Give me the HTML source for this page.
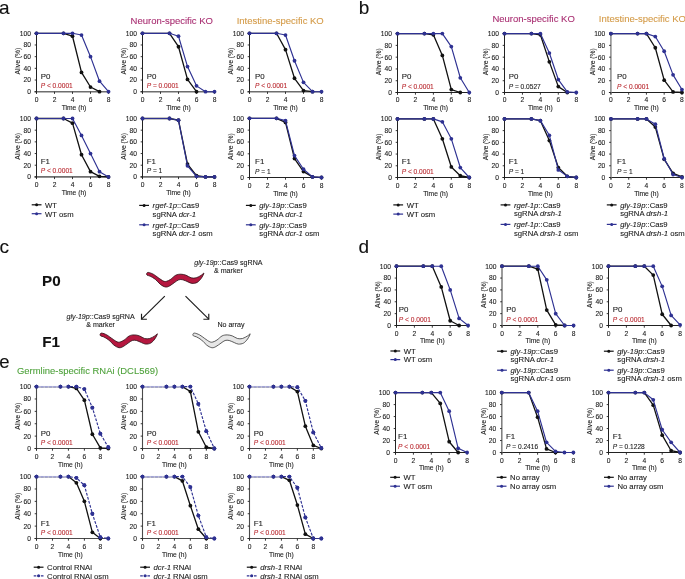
<!DOCTYPE html>
<html><head><meta charset="utf-8"><style>
html,body{margin:0;padding:0;background:#fff;width:685px;height:579px;overflow:hidden;}
svg{display:block;font-family:"Liberation Sans", sans-serif;will-change:transform;}
</style></head><body>
<svg width="685" height="579" viewBox="0 0 685 579">
<rect width="685" height="579" fill="#fff"/>
<text x="-0.90" y="14.00" font-size="19" text-anchor="start" fill="#111" stroke="#111" stroke-width="0.1" >a</text>
<text x="171.80" y="23.60" font-size="9.5" text-anchor="middle" fill="#a92f72" stroke="#a92f72" stroke-width="0.1" >Neuron-specific KO</text>
<text x="280.20" y="23.60" font-size="9.5" text-anchor="middle" fill="#d49b48" stroke="#d49b48" stroke-width="0.1" >Intestine-specific KO</text>
<line x1="34.50" y1="91.70" x2="108.50" y2="91.70" stroke="#6e6e6e" stroke-width="1.6"/>
<line x1="36.50" y1="93.70" x2="36.50" y2="33.30" stroke="#222222" stroke-width="1.0"/>
<line x1="34.70" y1="91.70" x2="36.50" y2="91.70" stroke="#222222" stroke-width="0.9"/>
<text x="30.90" y="94.10" font-size="6.7" text-anchor="end" fill="#1a1a1a" stroke="#1a1a1a" stroke-width="0.1" >0</text>
<line x1="34.70" y1="80.02" x2="36.50" y2="80.02" stroke="#222222" stroke-width="0.9"/>
<text x="30.90" y="82.42" font-size="6.7" text-anchor="end" fill="#1a1a1a" stroke="#1a1a1a" stroke-width="0.1" >20</text>
<line x1="34.70" y1="68.34" x2="36.50" y2="68.34" stroke="#222222" stroke-width="0.9"/>
<text x="30.90" y="70.74" font-size="6.7" text-anchor="end" fill="#1a1a1a" stroke="#1a1a1a" stroke-width="0.1" >40</text>
<line x1="34.70" y1="56.66" x2="36.50" y2="56.66" stroke="#222222" stroke-width="0.9"/>
<text x="30.90" y="59.06" font-size="6.7" text-anchor="end" fill="#1a1a1a" stroke="#1a1a1a" stroke-width="0.1" >60</text>
<line x1="34.70" y1="44.98" x2="36.50" y2="44.98" stroke="#222222" stroke-width="0.9"/>
<text x="30.90" y="47.38" font-size="6.7" text-anchor="end" fill="#1a1a1a" stroke="#1a1a1a" stroke-width="0.1" >80</text>
<line x1="34.70" y1="33.30" x2="36.50" y2="33.30" stroke="#222222" stroke-width="0.9"/>
<text x="30.90" y="35.70" font-size="6.7" text-anchor="end" fill="#1a1a1a" stroke="#1a1a1a" stroke-width="0.1" >100</text>
<line x1="36.50" y1="91.70" x2="36.50" y2="93.90" stroke="#222222" stroke-width="0.9"/>
<text x="36.50" y="102.10" font-size="6.7" text-anchor="middle" fill="#1a1a1a" stroke="#1a1a1a" stroke-width="0.1" >0</text>
<line x1="54.50" y1="91.70" x2="54.50" y2="93.90" stroke="#222222" stroke-width="0.9"/>
<text x="54.50" y="102.10" font-size="6.7" text-anchor="middle" fill="#1a1a1a" stroke="#1a1a1a" stroke-width="0.1" >2</text>
<line x1="72.50" y1="91.70" x2="72.50" y2="93.90" stroke="#222222" stroke-width="0.9"/>
<text x="72.50" y="102.10" font-size="6.7" text-anchor="middle" fill="#1a1a1a" stroke="#1a1a1a" stroke-width="0.1" >4</text>
<line x1="90.50" y1="91.70" x2="90.50" y2="93.90" stroke="#222222" stroke-width="0.9"/>
<text x="90.50" y="102.10" font-size="6.7" text-anchor="middle" fill="#1a1a1a" stroke="#1a1a1a" stroke-width="0.1" >6</text>
<line x1="108.50" y1="91.70" x2="108.50" y2="93.90" stroke="#222222" stroke-width="0.9"/>
<text x="108.50" y="102.10" font-size="6.7" text-anchor="middle" fill="#1a1a1a" stroke="#1a1a1a" stroke-width="0.1" >8</text>
<text x="74.03" y="110.00" font-size="6.7" text-anchor="middle" fill="#1a1a1a" stroke="#1a1a1a" stroke-width="0.1" >Time (h)</text>
<text x="0" y="0" font-size="6.7" text-anchor="middle" fill="#1a1a1a" stroke="#1a1a1a" stroke-width="0.1" transform="translate(20.30,61.20) rotate(-90)">Alive (%)</text>
<polyline points="36.50,33.30 63.50,33.30 72.50,36.22 81.50,72.43 90.50,87.03 99.50,91.70" fill="none" stroke="#111111" stroke-width="1.3" stroke-linejoin="round"/>
<circle cx="36.50" cy="33.30" r="1.9" fill="#111111"/>
<circle cx="63.50" cy="33.30" r="1.9" fill="#111111"/>
<circle cx="72.50" cy="36.22" r="1.9" fill="#111111"/>
<circle cx="81.50" cy="72.43" r="1.9" fill="#111111"/>
<circle cx="90.50" cy="87.03" r="1.9" fill="#111111"/>
<circle cx="99.50" cy="91.70" r="1.9" fill="#111111"/>
<polyline points="36.50,33.30 63.50,33.30 72.50,33.30 81.50,35.05 90.50,56.66 99.50,81.19 108.50,91.70" fill="none" stroke="#2e3192" stroke-width="1.15" stroke-linejoin="round"/>
<circle cx="36.50" cy="33.30" r="1.9" fill="#2e3192"/>
<circle cx="63.50" cy="33.30" r="1.9" fill="#2e3192"/>
<circle cx="72.50" cy="33.30" r="1.9" fill="#2e3192"/>
<circle cx="81.50" cy="35.05" r="1.9" fill="#2e3192"/>
<circle cx="90.50" cy="56.66" r="1.9" fill="#2e3192"/>
<circle cx="99.50" cy="81.19" r="1.9" fill="#2e3192"/>
<circle cx="108.50" cy="91.70" r="1.9" fill="#2e3192"/>
<text x="40.70" y="78.60" font-size="7.9" text-anchor="start" fill="#222" stroke="#222" stroke-width="0.1" >P0</text>
<text x="40.70" y="88.00" font-size="6.6" text-anchor="start" fill="#b9282f" stroke="#b9282f" stroke-width="0.1" ><tspan font-style="italic">P</tspan> &lt; 0.0001</text>
<line x1="34.50" y1="176.90" x2="108.50" y2="176.90" stroke="#6e6e6e" stroke-width="1.6"/>
<line x1="36.50" y1="178.90" x2="36.50" y2="118.50" stroke="#222222" stroke-width="1.0"/>
<line x1="34.70" y1="176.90" x2="36.50" y2="176.90" stroke="#222222" stroke-width="0.9"/>
<text x="30.90" y="179.30" font-size="6.7" text-anchor="end" fill="#1a1a1a" stroke="#1a1a1a" stroke-width="0.1" >0</text>
<line x1="34.70" y1="165.22" x2="36.50" y2="165.22" stroke="#222222" stroke-width="0.9"/>
<text x="30.90" y="167.62" font-size="6.7" text-anchor="end" fill="#1a1a1a" stroke="#1a1a1a" stroke-width="0.1" >20</text>
<line x1="34.70" y1="153.54" x2="36.50" y2="153.54" stroke="#222222" stroke-width="0.9"/>
<text x="30.90" y="155.94" font-size="6.7" text-anchor="end" fill="#1a1a1a" stroke="#1a1a1a" stroke-width="0.1" >40</text>
<line x1="34.70" y1="141.86" x2="36.50" y2="141.86" stroke="#222222" stroke-width="0.9"/>
<text x="30.90" y="144.26" font-size="6.7" text-anchor="end" fill="#1a1a1a" stroke="#1a1a1a" stroke-width="0.1" >60</text>
<line x1="34.70" y1="130.18" x2="36.50" y2="130.18" stroke="#222222" stroke-width="0.9"/>
<text x="30.90" y="132.58" font-size="6.7" text-anchor="end" fill="#1a1a1a" stroke="#1a1a1a" stroke-width="0.1" >80</text>
<line x1="34.70" y1="118.50" x2="36.50" y2="118.50" stroke="#222222" stroke-width="0.9"/>
<text x="30.90" y="120.90" font-size="6.7" text-anchor="end" fill="#1a1a1a" stroke="#1a1a1a" stroke-width="0.1" >100</text>
<line x1="36.50" y1="176.90" x2="36.50" y2="179.10" stroke="#222222" stroke-width="0.9"/>
<text x="36.50" y="187.30" font-size="6.7" text-anchor="middle" fill="#1a1a1a" stroke="#1a1a1a" stroke-width="0.1" >0</text>
<line x1="54.50" y1="176.90" x2="54.50" y2="179.10" stroke="#222222" stroke-width="0.9"/>
<text x="54.50" y="187.30" font-size="6.7" text-anchor="middle" fill="#1a1a1a" stroke="#1a1a1a" stroke-width="0.1" >2</text>
<line x1="72.50" y1="176.90" x2="72.50" y2="179.10" stroke="#222222" stroke-width="0.9"/>
<text x="72.50" y="187.30" font-size="6.7" text-anchor="middle" fill="#1a1a1a" stroke="#1a1a1a" stroke-width="0.1" >4</text>
<line x1="90.50" y1="176.90" x2="90.50" y2="179.10" stroke="#222222" stroke-width="0.9"/>
<text x="90.50" y="187.30" font-size="6.7" text-anchor="middle" fill="#1a1a1a" stroke="#1a1a1a" stroke-width="0.1" >6</text>
<line x1="108.50" y1="176.90" x2="108.50" y2="179.10" stroke="#222222" stroke-width="0.9"/>
<text x="108.50" y="187.30" font-size="6.7" text-anchor="middle" fill="#1a1a1a" stroke="#1a1a1a" stroke-width="0.1" >8</text>
<text x="74.03" y="195.20" font-size="6.7" text-anchor="middle" fill="#1a1a1a" stroke="#1a1a1a" stroke-width="0.1" >Time (h)</text>
<text x="0" y="0" font-size="6.7" text-anchor="middle" fill="#1a1a1a" stroke="#1a1a1a" stroke-width="0.1" transform="translate(20.30,146.40) rotate(-90)">Alive (%)</text>
<polyline points="36.50,118.50 63.50,118.50 72.50,123.17 81.50,154.71 90.50,171.64 99.50,176.32 108.50,176.90" fill="none" stroke="#111111" stroke-width="1.3" stroke-linejoin="round"/>
<circle cx="36.50" cy="118.50" r="1.9" fill="#111111"/>
<circle cx="63.50" cy="118.50" r="1.9" fill="#111111"/>
<circle cx="72.50" cy="123.17" r="1.9" fill="#111111"/>
<circle cx="81.50" cy="154.71" r="1.9" fill="#111111"/>
<circle cx="90.50" cy="171.64" r="1.9" fill="#111111"/>
<circle cx="99.50" cy="176.32" r="1.9" fill="#111111"/>
<circle cx="108.50" cy="176.90" r="1.9" fill="#111111"/>
<polyline points="36.50,118.50 63.50,118.50 72.50,118.50 81.50,135.44 90.50,153.54 99.50,171.64 108.50,176.90" fill="none" stroke="#2e3192" stroke-width="1.15" stroke-linejoin="round"/>
<circle cx="36.50" cy="118.50" r="1.9" fill="#2e3192"/>
<circle cx="63.50" cy="118.50" r="1.9" fill="#2e3192"/>
<circle cx="72.50" cy="118.50" r="1.9" fill="#2e3192"/>
<circle cx="81.50" cy="135.44" r="1.9" fill="#2e3192"/>
<circle cx="90.50" cy="153.54" r="1.9" fill="#2e3192"/>
<circle cx="99.50" cy="171.64" r="1.9" fill="#2e3192"/>
<circle cx="108.50" cy="176.90" r="1.9" fill="#2e3192"/>
<text x="40.70" y="163.80" font-size="7.9" text-anchor="start" fill="#222" stroke="#222" stroke-width="0.1" >F1</text>
<text x="40.70" y="173.20" font-size="6.6" text-anchor="start" fill="#b9282f" stroke="#b9282f" stroke-width="0.1" ><tspan font-style="italic">P</tspan> &lt; 0.0001</text>
<line x1="140.50" y1="91.70" x2="214.50" y2="91.70" stroke="#6e6e6e" stroke-width="1.6"/>
<line x1="142.50" y1="93.70" x2="142.50" y2="33.30" stroke="#222222" stroke-width="1.0"/>
<line x1="140.70" y1="91.70" x2="142.50" y2="91.70" stroke="#222222" stroke-width="0.9"/>
<text x="136.90" y="94.10" font-size="6.7" text-anchor="end" fill="#1a1a1a" stroke="#1a1a1a" stroke-width="0.1" >0</text>
<line x1="140.70" y1="80.02" x2="142.50" y2="80.02" stroke="#222222" stroke-width="0.9"/>
<text x="136.90" y="82.42" font-size="6.7" text-anchor="end" fill="#1a1a1a" stroke="#1a1a1a" stroke-width="0.1" >20</text>
<line x1="140.70" y1="68.34" x2="142.50" y2="68.34" stroke="#222222" stroke-width="0.9"/>
<text x="136.90" y="70.74" font-size="6.7" text-anchor="end" fill="#1a1a1a" stroke="#1a1a1a" stroke-width="0.1" >40</text>
<line x1="140.70" y1="56.66" x2="142.50" y2="56.66" stroke="#222222" stroke-width="0.9"/>
<text x="136.90" y="59.06" font-size="6.7" text-anchor="end" fill="#1a1a1a" stroke="#1a1a1a" stroke-width="0.1" >60</text>
<line x1="140.70" y1="44.98" x2="142.50" y2="44.98" stroke="#222222" stroke-width="0.9"/>
<text x="136.90" y="47.38" font-size="6.7" text-anchor="end" fill="#1a1a1a" stroke="#1a1a1a" stroke-width="0.1" >80</text>
<line x1="140.70" y1="33.30" x2="142.50" y2="33.30" stroke="#222222" stroke-width="0.9"/>
<text x="136.90" y="35.70" font-size="6.7" text-anchor="end" fill="#1a1a1a" stroke="#1a1a1a" stroke-width="0.1" >100</text>
<line x1="142.50" y1="91.70" x2="142.50" y2="93.90" stroke="#222222" stroke-width="0.9"/>
<text x="142.50" y="102.10" font-size="6.7" text-anchor="middle" fill="#1a1a1a" stroke="#1a1a1a" stroke-width="0.1" >0</text>
<line x1="160.50" y1="91.70" x2="160.50" y2="93.90" stroke="#222222" stroke-width="0.9"/>
<text x="160.50" y="102.10" font-size="6.7" text-anchor="middle" fill="#1a1a1a" stroke="#1a1a1a" stroke-width="0.1" >2</text>
<line x1="178.50" y1="91.70" x2="178.50" y2="93.90" stroke="#222222" stroke-width="0.9"/>
<text x="178.50" y="102.10" font-size="6.7" text-anchor="middle" fill="#1a1a1a" stroke="#1a1a1a" stroke-width="0.1" >4</text>
<line x1="196.50" y1="91.70" x2="196.50" y2="93.90" stroke="#222222" stroke-width="0.9"/>
<text x="196.50" y="102.10" font-size="6.7" text-anchor="middle" fill="#1a1a1a" stroke="#1a1a1a" stroke-width="0.1" >6</text>
<line x1="214.50" y1="91.70" x2="214.50" y2="93.90" stroke="#222222" stroke-width="0.9"/>
<text x="214.50" y="102.10" font-size="6.7" text-anchor="middle" fill="#1a1a1a" stroke="#1a1a1a" stroke-width="0.1" >8</text>
<text x="178.50" y="110.00" font-size="6.7" text-anchor="middle" fill="#1a1a1a" stroke="#1a1a1a" stroke-width="0.1" >Time (h)</text>
<text x="0" y="0" font-size="6.7" text-anchor="middle" fill="#1a1a1a" stroke="#1a1a1a" stroke-width="0.1" transform="translate(126.30,61.20) rotate(-90)">Alive (%)</text>
<polyline points="142.50,33.30 169.50,33.30 178.50,46.73 187.50,79.44 196.50,91.70" fill="none" stroke="#111111" stroke-width="1.3" stroke-linejoin="round"/>
<circle cx="142.50" cy="33.30" r="1.9" fill="#111111"/>
<circle cx="169.50" cy="33.30" r="1.9" fill="#111111"/>
<circle cx="178.50" cy="46.73" r="1.9" fill="#111111"/>
<circle cx="187.50" cy="79.44" r="1.9" fill="#111111"/>
<circle cx="196.50" cy="91.70" r="1.9" fill="#111111"/>
<polyline points="142.50,33.30 169.50,33.30 178.50,36.22 187.50,66.59 196.50,85.86 205.50,91.70 214.50,91.70" fill="none" stroke="#2e3192" stroke-width="1.15" stroke-linejoin="round"/>
<circle cx="142.50" cy="33.30" r="1.9" fill="#2e3192"/>
<circle cx="169.50" cy="33.30" r="1.9" fill="#2e3192"/>
<circle cx="178.50" cy="36.22" r="1.9" fill="#2e3192"/>
<circle cx="187.50" cy="66.59" r="1.9" fill="#2e3192"/>
<circle cx="196.50" cy="85.86" r="1.9" fill="#2e3192"/>
<circle cx="205.50" cy="91.70" r="1.9" fill="#2e3192"/>
<circle cx="214.50" cy="91.70" r="1.9" fill="#2e3192"/>
<text x="146.70" y="78.60" font-size="7.9" text-anchor="start" fill="#222" stroke="#222" stroke-width="0.1" >P0</text>
<text x="146.70" y="88.00" font-size="6.6" text-anchor="start" fill="#b9282f" stroke="#b9282f" stroke-width="0.1" ><tspan font-style="italic">P</tspan> = 0.0001</text>
<line x1="140.50" y1="176.90" x2="214.50" y2="176.90" stroke="#6e6e6e" stroke-width="1.6"/>
<line x1="142.50" y1="178.90" x2="142.50" y2="118.50" stroke="#222222" stroke-width="1.0"/>
<line x1="140.70" y1="176.90" x2="142.50" y2="176.90" stroke="#222222" stroke-width="0.9"/>
<text x="136.90" y="179.30" font-size="6.7" text-anchor="end" fill="#1a1a1a" stroke="#1a1a1a" stroke-width="0.1" >0</text>
<line x1="140.70" y1="165.22" x2="142.50" y2="165.22" stroke="#222222" stroke-width="0.9"/>
<text x="136.90" y="167.62" font-size="6.7" text-anchor="end" fill="#1a1a1a" stroke="#1a1a1a" stroke-width="0.1" >20</text>
<line x1="140.70" y1="153.54" x2="142.50" y2="153.54" stroke="#222222" stroke-width="0.9"/>
<text x="136.90" y="155.94" font-size="6.7" text-anchor="end" fill="#1a1a1a" stroke="#1a1a1a" stroke-width="0.1" >40</text>
<line x1="140.70" y1="141.86" x2="142.50" y2="141.86" stroke="#222222" stroke-width="0.9"/>
<text x="136.90" y="144.26" font-size="6.7" text-anchor="end" fill="#1a1a1a" stroke="#1a1a1a" stroke-width="0.1" >60</text>
<line x1="140.70" y1="130.18" x2="142.50" y2="130.18" stroke="#222222" stroke-width="0.9"/>
<text x="136.90" y="132.58" font-size="6.7" text-anchor="end" fill="#1a1a1a" stroke="#1a1a1a" stroke-width="0.1" >80</text>
<line x1="140.70" y1="118.50" x2="142.50" y2="118.50" stroke="#222222" stroke-width="0.9"/>
<text x="136.90" y="120.90" font-size="6.7" text-anchor="end" fill="#1a1a1a" stroke="#1a1a1a" stroke-width="0.1" >100</text>
<line x1="142.50" y1="176.90" x2="142.50" y2="179.10" stroke="#222222" stroke-width="0.9"/>
<text x="142.50" y="187.30" font-size="6.7" text-anchor="middle" fill="#1a1a1a" stroke="#1a1a1a" stroke-width="0.1" >0</text>
<line x1="160.50" y1="176.90" x2="160.50" y2="179.10" stroke="#222222" stroke-width="0.9"/>
<text x="160.50" y="187.30" font-size="6.7" text-anchor="middle" fill="#1a1a1a" stroke="#1a1a1a" stroke-width="0.1" >2</text>
<line x1="178.50" y1="176.90" x2="178.50" y2="179.10" stroke="#222222" stroke-width="0.9"/>
<text x="178.50" y="187.30" font-size="6.7" text-anchor="middle" fill="#1a1a1a" stroke="#1a1a1a" stroke-width="0.1" >4</text>
<line x1="196.50" y1="176.90" x2="196.50" y2="179.10" stroke="#222222" stroke-width="0.9"/>
<text x="196.50" y="187.30" font-size="6.7" text-anchor="middle" fill="#1a1a1a" stroke="#1a1a1a" stroke-width="0.1" >6</text>
<line x1="214.50" y1="176.90" x2="214.50" y2="179.10" stroke="#222222" stroke-width="0.9"/>
<text x="214.50" y="187.30" font-size="6.7" text-anchor="middle" fill="#1a1a1a" stroke="#1a1a1a" stroke-width="0.1" >8</text>
<text x="178.50" y="195.20" font-size="6.7" text-anchor="middle" fill="#1a1a1a" stroke="#1a1a1a" stroke-width="0.1" >Time (h)</text>
<text x="0" y="0" font-size="6.7" text-anchor="middle" fill="#1a1a1a" stroke="#1a1a1a" stroke-width="0.1" transform="translate(126.30,146.40) rotate(-90)">Alive (%)</text>
<polyline points="142.50,118.50 169.50,118.50 178.50,120.25 187.50,164.05 196.50,175.73 205.50,176.90 214.50,176.90" fill="none" stroke="#111111" stroke-width="1.3" stroke-linejoin="round"/>
<circle cx="142.50" cy="118.50" r="1.9" fill="#111111"/>
<circle cx="169.50" cy="118.50" r="1.9" fill="#111111"/>
<circle cx="178.50" cy="120.25" r="1.9" fill="#111111"/>
<circle cx="187.50" cy="164.05" r="1.9" fill="#111111"/>
<circle cx="196.50" cy="175.73" r="1.9" fill="#111111"/>
<circle cx="205.50" cy="176.90" r="1.9" fill="#111111"/>
<circle cx="214.50" cy="176.90" r="1.9" fill="#111111"/>
<polyline points="142.50,118.50 169.50,118.50 178.50,120.25 187.50,165.80 196.50,176.32 205.50,176.90 214.50,176.90" fill="none" stroke="#2e3192" stroke-width="1.15" stroke-linejoin="round"/>
<circle cx="142.50" cy="118.50" r="1.9" fill="#2e3192"/>
<circle cx="169.50" cy="118.50" r="1.9" fill="#2e3192"/>
<circle cx="178.50" cy="120.25" r="1.9" fill="#2e3192"/>
<circle cx="187.50" cy="165.80" r="1.9" fill="#2e3192"/>
<circle cx="196.50" cy="176.32" r="1.9" fill="#2e3192"/>
<circle cx="205.50" cy="176.90" r="1.9" fill="#2e3192"/>
<circle cx="214.50" cy="176.90" r="1.9" fill="#2e3192"/>
<text x="146.70" y="163.80" font-size="7.9" text-anchor="start" fill="#222" stroke="#222" stroke-width="0.1" >F1</text>
<text x="146.70" y="173.20" font-size="6.6" text-anchor="start" fill="#222" stroke="#222" stroke-width="0.1" ><tspan font-style="italic">P</tspan> = 1</text>
<line x1="247.50" y1="91.70" x2="321.50" y2="91.70" stroke="#6e6e6e" stroke-width="1.6"/>
<line x1="249.50" y1="93.70" x2="249.50" y2="33.30" stroke="#222222" stroke-width="1.0"/>
<line x1="247.70" y1="91.70" x2="249.50" y2="91.70" stroke="#222222" stroke-width="0.9"/>
<text x="243.90" y="94.10" font-size="6.7" text-anchor="end" fill="#1a1a1a" stroke="#1a1a1a" stroke-width="0.1" >0</text>
<line x1="247.70" y1="80.02" x2="249.50" y2="80.02" stroke="#222222" stroke-width="0.9"/>
<text x="243.90" y="82.42" font-size="6.7" text-anchor="end" fill="#1a1a1a" stroke="#1a1a1a" stroke-width="0.1" >20</text>
<line x1="247.70" y1="68.34" x2="249.50" y2="68.34" stroke="#222222" stroke-width="0.9"/>
<text x="243.90" y="70.74" font-size="6.7" text-anchor="end" fill="#1a1a1a" stroke="#1a1a1a" stroke-width="0.1" >40</text>
<line x1="247.70" y1="56.66" x2="249.50" y2="56.66" stroke="#222222" stroke-width="0.9"/>
<text x="243.90" y="59.06" font-size="6.7" text-anchor="end" fill="#1a1a1a" stroke="#1a1a1a" stroke-width="0.1" >60</text>
<line x1="247.70" y1="44.98" x2="249.50" y2="44.98" stroke="#222222" stroke-width="0.9"/>
<text x="243.90" y="47.38" font-size="6.7" text-anchor="end" fill="#1a1a1a" stroke="#1a1a1a" stroke-width="0.1" >80</text>
<line x1="247.70" y1="33.30" x2="249.50" y2="33.30" stroke="#222222" stroke-width="0.9"/>
<text x="243.90" y="35.70" font-size="6.7" text-anchor="end" fill="#1a1a1a" stroke="#1a1a1a" stroke-width="0.1" >100</text>
<line x1="249.50" y1="91.70" x2="249.50" y2="93.90" stroke="#222222" stroke-width="0.9"/>
<text x="249.50" y="102.10" font-size="6.7" text-anchor="middle" fill="#1a1a1a" stroke="#1a1a1a" stroke-width="0.1" >0</text>
<line x1="267.50" y1="91.70" x2="267.50" y2="93.90" stroke="#222222" stroke-width="0.9"/>
<text x="267.50" y="102.10" font-size="6.7" text-anchor="middle" fill="#1a1a1a" stroke="#1a1a1a" stroke-width="0.1" >2</text>
<line x1="285.50" y1="91.70" x2="285.50" y2="93.90" stroke="#222222" stroke-width="0.9"/>
<text x="285.50" y="102.10" font-size="6.7" text-anchor="middle" fill="#1a1a1a" stroke="#1a1a1a" stroke-width="0.1" >4</text>
<line x1="303.50" y1="91.70" x2="303.50" y2="93.90" stroke="#222222" stroke-width="0.9"/>
<text x="303.50" y="102.10" font-size="6.7" text-anchor="middle" fill="#1a1a1a" stroke="#1a1a1a" stroke-width="0.1" >6</text>
<line x1="321.50" y1="91.70" x2="321.50" y2="93.90" stroke="#222222" stroke-width="0.9"/>
<text x="321.50" y="102.10" font-size="6.7" text-anchor="middle" fill="#1a1a1a" stroke="#1a1a1a" stroke-width="0.1" >8</text>
<text x="285.50" y="110.00" font-size="6.7" text-anchor="middle" fill="#1a1a1a" stroke="#1a1a1a" stroke-width="0.1" >Time (h)</text>
<text x="0" y="0" font-size="6.7" text-anchor="middle" fill="#1a1a1a" stroke="#1a1a1a" stroke-width="0.1" transform="translate(233.30,61.20) rotate(-90)">Alive (%)</text>
<polyline points="249.50,33.30 276.50,33.30 285.50,49.65 294.50,78.27 303.50,90.53 312.50,91.70" fill="none" stroke="#111111" stroke-width="1.3" stroke-linejoin="round"/>
<circle cx="249.50" cy="33.30" r="1.9" fill="#111111"/>
<circle cx="276.50" cy="33.30" r="1.9" fill="#111111"/>
<circle cx="285.50" cy="49.65" r="1.9" fill="#111111"/>
<circle cx="294.50" cy="78.27" r="1.9" fill="#111111"/>
<circle cx="303.50" cy="90.53" r="1.9" fill="#111111"/>
<circle cx="312.50" cy="91.70" r="1.9" fill="#111111"/>
<polyline points="249.50,33.30 276.50,33.30 285.50,35.05 294.50,60.75 303.50,82.36 312.50,91.70 321.50,91.70" fill="none" stroke="#2e3192" stroke-width="1.15" stroke-linejoin="round"/>
<circle cx="249.50" cy="33.30" r="1.9" fill="#2e3192"/>
<circle cx="276.50" cy="33.30" r="1.9" fill="#2e3192"/>
<circle cx="285.50" cy="35.05" r="1.9" fill="#2e3192"/>
<circle cx="294.50" cy="60.75" r="1.9" fill="#2e3192"/>
<circle cx="303.50" cy="82.36" r="1.9" fill="#2e3192"/>
<circle cx="312.50" cy="91.70" r="1.9" fill="#2e3192"/>
<circle cx="321.50" cy="91.70" r="1.9" fill="#2e3192"/>
<text x="255.10" y="78.60" font-size="7.9" text-anchor="start" fill="#222" stroke="#222" stroke-width="0.1" >P0</text>
<text x="255.10" y="88.00" font-size="6.6" text-anchor="start" fill="#b9282f" stroke="#b9282f" stroke-width="0.1" ><tspan font-style="italic">P</tspan> &lt; 0.0001</text>
<line x1="247.50" y1="177.50" x2="321.50" y2="177.50" stroke="#222222" stroke-width="1.1"/>
<line x1="249.50" y1="179.50" x2="249.50" y2="118.30" stroke="#222222" stroke-width="1.0"/>
<line x1="247.70" y1="177.50" x2="249.50" y2="177.50" stroke="#222222" stroke-width="0.9"/>
<text x="243.90" y="179.90" font-size="6.7" text-anchor="end" fill="#1a1a1a" stroke="#1a1a1a" stroke-width="0.1" >0</text>
<line x1="247.70" y1="165.66" x2="249.50" y2="165.66" stroke="#222222" stroke-width="0.9"/>
<text x="243.90" y="168.06" font-size="6.7" text-anchor="end" fill="#1a1a1a" stroke="#1a1a1a" stroke-width="0.1" >20</text>
<line x1="247.70" y1="153.82" x2="249.50" y2="153.82" stroke="#222222" stroke-width="0.9"/>
<text x="243.90" y="156.22" font-size="6.7" text-anchor="end" fill="#1a1a1a" stroke="#1a1a1a" stroke-width="0.1" >40</text>
<line x1="247.70" y1="141.98" x2="249.50" y2="141.98" stroke="#222222" stroke-width="0.9"/>
<text x="243.90" y="144.38" font-size="6.7" text-anchor="end" fill="#1a1a1a" stroke="#1a1a1a" stroke-width="0.1" >60</text>
<line x1="247.70" y1="130.14" x2="249.50" y2="130.14" stroke="#222222" stroke-width="0.9"/>
<text x="243.90" y="132.54" font-size="6.7" text-anchor="end" fill="#1a1a1a" stroke="#1a1a1a" stroke-width="0.1" >80</text>
<line x1="247.70" y1="118.30" x2="249.50" y2="118.30" stroke="#222222" stroke-width="0.9"/>
<text x="243.90" y="120.70" font-size="6.7" text-anchor="end" fill="#1a1a1a" stroke="#1a1a1a" stroke-width="0.1" >100</text>
<line x1="249.50" y1="177.50" x2="249.50" y2="179.70" stroke="#222222" stroke-width="0.9"/>
<text x="249.50" y="187.90" font-size="6.7" text-anchor="middle" fill="#1a1a1a" stroke="#1a1a1a" stroke-width="0.1" >0</text>
<line x1="267.50" y1="177.50" x2="267.50" y2="179.70" stroke="#222222" stroke-width="0.9"/>
<text x="267.50" y="187.90" font-size="6.7" text-anchor="middle" fill="#1a1a1a" stroke="#1a1a1a" stroke-width="0.1" >2</text>
<line x1="285.50" y1="177.50" x2="285.50" y2="179.70" stroke="#222222" stroke-width="0.9"/>
<text x="285.50" y="187.90" font-size="6.7" text-anchor="middle" fill="#1a1a1a" stroke="#1a1a1a" stroke-width="0.1" >4</text>
<line x1="303.50" y1="177.50" x2="303.50" y2="179.70" stroke="#222222" stroke-width="0.9"/>
<text x="303.50" y="187.90" font-size="6.7" text-anchor="middle" fill="#1a1a1a" stroke="#1a1a1a" stroke-width="0.1" >6</text>
<line x1="321.50" y1="177.50" x2="321.50" y2="179.70" stroke="#222222" stroke-width="0.9"/>
<text x="321.50" y="187.90" font-size="6.7" text-anchor="middle" fill="#1a1a1a" stroke="#1a1a1a" stroke-width="0.1" >8</text>
<text x="285.50" y="195.80" font-size="6.7" text-anchor="middle" fill="#1a1a1a" stroke="#1a1a1a" stroke-width="0.1" >Time (h)</text>
<text x="0" y="0" font-size="6.7" text-anchor="middle" fill="#1a1a1a" stroke="#1a1a1a" stroke-width="0.1" transform="translate(233.30,146.60) rotate(-90)">Alive (%)</text>
<polyline points="249.50,118.30 276.50,118.30 285.50,122.44 294.50,158.56 303.50,171.58 312.50,176.91 321.50,177.50" fill="none" stroke="#111111" stroke-width="1.3" stroke-linejoin="round"/>
<circle cx="249.50" cy="118.30" r="1.9" fill="#111111"/>
<circle cx="276.50" cy="118.30" r="1.9" fill="#111111"/>
<circle cx="285.50" cy="122.44" r="1.9" fill="#111111"/>
<circle cx="294.50" cy="158.56" r="1.9" fill="#111111"/>
<circle cx="303.50" cy="171.58" r="1.9" fill="#111111"/>
<circle cx="312.50" cy="176.91" r="1.9" fill="#111111"/>
<circle cx="321.50" cy="177.50" r="1.9" fill="#111111"/>
<polyline points="249.50,118.30 276.50,118.30 285.50,120.67 294.50,155.60 303.50,169.21 312.50,176.91 321.50,177.50" fill="none" stroke="#2e3192" stroke-width="1.15" stroke-linejoin="round"/>
<circle cx="249.50" cy="118.30" r="1.9" fill="#2e3192"/>
<circle cx="276.50" cy="118.30" r="1.9" fill="#2e3192"/>
<circle cx="285.50" cy="120.67" r="1.9" fill="#2e3192"/>
<circle cx="294.50" cy="155.60" r="1.9" fill="#2e3192"/>
<circle cx="303.50" cy="169.21" r="1.9" fill="#2e3192"/>
<circle cx="312.50" cy="176.91" r="1.9" fill="#2e3192"/>
<circle cx="321.50" cy="177.50" r="1.9" fill="#2e3192"/>
<text x="255.10" y="164.40" font-size="7.9" text-anchor="start" fill="#222" stroke="#222" stroke-width="0.1" >F1</text>
<text x="255.10" y="173.80" font-size="6.6" text-anchor="start" fill="#222" stroke="#222" stroke-width="0.1" ><tspan font-style="italic">P</tspan> = 1</text>
<line x1="31.70" y1="204.80" x2="41.50" y2="204.80" stroke="#111111" stroke-width="1.2"/>
<circle cx="36.60" cy="204.80" r="1.5" fill="#111111"/>
<text x="45.10" y="207.60" font-size="7.7" text-anchor="start" fill="#1a1a1a" stroke="#1a1a1a" stroke-width="0.1" >WT</text>
<line x1="31.70" y1="213.70" x2="41.50" y2="213.70" stroke="#2e3192" stroke-width="1.2"/>
<circle cx="36.60" cy="213.70" r="1.5" fill="#2e3192"/>
<text x="45.10" y="216.50" font-size="7.7" text-anchor="start" fill="#1a1a1a" stroke="#1a1a1a" stroke-width="0.1" >WT osm</text>
<line x1="139.20" y1="205.40" x2="149.00" y2="205.40" stroke="#111111" stroke-width="1.2"/>
<circle cx="144.10" cy="205.40" r="1.5" fill="#111111"/>
<text x="152.60" y="208.20" font-size="7.7" text-anchor="start" fill="#1a1a1a" stroke="#1a1a1a" stroke-width="0.1" ><tspan font-style="italic">rgef-1p</tspan>::Cas9</text>
<text x="152.60" y="216.50" font-size="7.7" text-anchor="start" fill="#1a1a1a" stroke="#1a1a1a" stroke-width="0.1" >sgRNA <tspan font-style="italic">dcr-1</tspan></text>
<line x1="139.20" y1="224.80" x2="149.00" y2="224.80" stroke="#2e3192" stroke-width="1.2"/>
<circle cx="144.10" cy="224.80" r="1.5" fill="#2e3192"/>
<text x="152.60" y="227.60" font-size="7.7" text-anchor="start" fill="#1a1a1a" stroke="#1a1a1a" stroke-width="0.1" ><tspan font-style="italic">rgef-1p</tspan>::Cas9</text>
<text x="152.60" y="235.90" font-size="7.7" text-anchor="start" fill="#1a1a1a" stroke="#1a1a1a" stroke-width="0.1" >sgRNA <tspan font-style="italic">dcr-1</tspan> osm</text>
<line x1="245.90" y1="205.40" x2="255.70" y2="205.40" stroke="#111111" stroke-width="1.2"/>
<circle cx="250.80" cy="205.40" r="1.5" fill="#111111"/>
<text x="259.30" y="208.20" font-size="7.7" text-anchor="start" fill="#1a1a1a" stroke="#1a1a1a" stroke-width="0.1" ><tspan font-style="italic">gly-19p</tspan>::Cas9</text>
<text x="259.30" y="216.50" font-size="7.7" text-anchor="start" fill="#1a1a1a" stroke="#1a1a1a" stroke-width="0.1" >sgRNA <tspan font-style="italic">dcr-1</tspan></text>
<line x1="245.90" y1="224.80" x2="255.70" y2="224.80" stroke="#2e3192" stroke-width="1.2"/>
<circle cx="250.80" cy="224.80" r="1.5" fill="#2e3192"/>
<text x="259.30" y="227.60" font-size="7.7" text-anchor="start" fill="#1a1a1a" stroke="#1a1a1a" stroke-width="0.1" ><tspan font-style="italic">gly-19p</tspan>::Cas9</text>
<text x="259.30" y="235.90" font-size="7.7" text-anchor="start" fill="#1a1a1a" stroke="#1a1a1a" stroke-width="0.1" >sgRNA <tspan font-style="italic">dcr-1</tspan> osm</text>
<text x="358.70" y="13.80" font-size="19" text-anchor="start" fill="#111" stroke="#111" stroke-width="0.1" >b</text>
<text x="533.60" y="22.10" font-size="9.5" text-anchor="middle" fill="#a92f72" stroke="#a92f72" stroke-width="0.1" >Neuron-specific KO</text>
<text x="642.40" y="22.10" font-size="9.5" text-anchor="middle" fill="#d49b48" stroke="#d49b48" stroke-width="0.1" >Intestine-specific KO</text>
<line x1="395.50" y1="92.50" x2="469.26" y2="92.50" stroke="#222222" stroke-width="1.1"/>
<line x1="397.50" y1="94.50" x2="397.50" y2="33.60" stroke="#222222" stroke-width="1.0"/>
<line x1="395.70" y1="92.50" x2="397.50" y2="92.50" stroke="#222222" stroke-width="0.9"/>
<text x="391.90" y="94.90" font-size="6.7" text-anchor="end" fill="#1a1a1a" stroke="#1a1a1a" stroke-width="0.1" >0</text>
<line x1="395.70" y1="80.72" x2="397.50" y2="80.72" stroke="#222222" stroke-width="0.9"/>
<text x="391.90" y="83.12" font-size="6.7" text-anchor="end" fill="#1a1a1a" stroke="#1a1a1a" stroke-width="0.1" >20</text>
<line x1="395.70" y1="68.94" x2="397.50" y2="68.94" stroke="#222222" stroke-width="0.9"/>
<text x="391.90" y="71.34" font-size="6.7" text-anchor="end" fill="#1a1a1a" stroke="#1a1a1a" stroke-width="0.1" >40</text>
<line x1="395.70" y1="57.16" x2="397.50" y2="57.16" stroke="#222222" stroke-width="0.9"/>
<text x="391.90" y="59.56" font-size="6.7" text-anchor="end" fill="#1a1a1a" stroke="#1a1a1a" stroke-width="0.1" >60</text>
<line x1="395.70" y1="45.38" x2="397.50" y2="45.38" stroke="#222222" stroke-width="0.9"/>
<text x="391.90" y="47.78" font-size="6.7" text-anchor="end" fill="#1a1a1a" stroke="#1a1a1a" stroke-width="0.1" >80</text>
<line x1="395.70" y1="33.60" x2="397.50" y2="33.60" stroke="#222222" stroke-width="0.9"/>
<text x="391.90" y="36.00" font-size="6.7" text-anchor="end" fill="#1a1a1a" stroke="#1a1a1a" stroke-width="0.1" >100</text>
<line x1="397.50" y1="92.50" x2="397.50" y2="94.70" stroke="#222222" stroke-width="0.9"/>
<text x="397.50" y="102.20" font-size="6.7" text-anchor="middle" fill="#1a1a1a" stroke="#1a1a1a" stroke-width="0.1" >0</text>
<line x1="415.44" y1="92.50" x2="415.44" y2="94.70" stroke="#222222" stroke-width="0.9"/>
<text x="415.44" y="102.20" font-size="6.7" text-anchor="middle" fill="#1a1a1a" stroke="#1a1a1a" stroke-width="0.1" >2</text>
<line x1="433.38" y1="92.50" x2="433.38" y2="94.70" stroke="#222222" stroke-width="0.9"/>
<text x="433.38" y="102.20" font-size="6.7" text-anchor="middle" fill="#1a1a1a" stroke="#1a1a1a" stroke-width="0.1" >4</text>
<line x1="451.32" y1="92.50" x2="451.32" y2="94.70" stroke="#222222" stroke-width="0.9"/>
<text x="451.32" y="102.20" font-size="6.7" text-anchor="middle" fill="#1a1a1a" stroke="#1a1a1a" stroke-width="0.1" >6</text>
<line x1="469.26" y1="92.50" x2="469.26" y2="94.70" stroke="#222222" stroke-width="0.9"/>
<text x="469.26" y="102.20" font-size="6.7" text-anchor="middle" fill="#1a1a1a" stroke="#1a1a1a" stroke-width="0.1" >8</text>
<text x="435.62" y="109.70" font-size="6.7" text-anchor="middle" fill="#1a1a1a" stroke="#1a1a1a" stroke-width="0.1" >Time (h)</text>
<text x="0" y="0" font-size="6.7" text-anchor="middle" fill="#1a1a1a" stroke="#1a1a1a" stroke-width="0.1" transform="translate(381.30,61.75) rotate(-90)">Alive (%)</text>
<polyline points="397.50,33.60 424.41,33.60 433.38,34.78 442.35,55.39 451.32,89.56 460.29,92.50" fill="none" stroke="#111111" stroke-width="1.3" stroke-linejoin="round"/>
<circle cx="397.50" cy="33.60" r="1.9" fill="#111111"/>
<circle cx="424.41" cy="33.60" r="1.9" fill="#111111"/>
<circle cx="433.38" cy="34.78" r="1.9" fill="#111111"/>
<circle cx="442.35" cy="55.39" r="1.9" fill="#111111"/>
<circle cx="451.32" cy="89.56" r="1.9" fill="#111111"/>
<circle cx="460.29" cy="92.50" r="1.9" fill="#111111"/>
<polyline points="397.50,33.60 424.41,33.60 433.38,33.60 442.35,33.60 451.32,46.56 460.29,77.78 469.26,92.50" fill="none" stroke="#2e3192" stroke-width="1.15" stroke-linejoin="round"/>
<circle cx="397.50" cy="33.60" r="1.9" fill="#2e3192"/>
<circle cx="424.41" cy="33.60" r="1.9" fill="#2e3192"/>
<circle cx="433.38" cy="33.60" r="1.9" fill="#2e3192"/>
<circle cx="442.35" cy="33.60" r="1.9" fill="#2e3192"/>
<circle cx="451.32" cy="46.56" r="1.9" fill="#2e3192"/>
<circle cx="460.29" cy="77.78" r="1.9" fill="#2e3192"/>
<circle cx="469.26" cy="92.50" r="1.9" fill="#2e3192"/>
<text x="401.70" y="79.00" font-size="7.9" text-anchor="start" fill="#222" stroke="#222" stroke-width="0.1" >P0</text>
<text x="401.70" y="88.68" font-size="6.6" text-anchor="start" fill="#b9282f" stroke="#b9282f" stroke-width="0.1" ><tspan font-style="italic">P</tspan> &lt; 0.0001</text>
<line x1="395.50" y1="177.50" x2="469.26" y2="177.50" stroke="#222222" stroke-width="1.1"/>
<line x1="397.50" y1="179.50" x2="397.50" y2="118.90" stroke="#222222" stroke-width="1.0"/>
<line x1="395.70" y1="177.50" x2="397.50" y2="177.50" stroke="#222222" stroke-width="0.9"/>
<text x="391.90" y="179.90" font-size="6.7" text-anchor="end" fill="#1a1a1a" stroke="#1a1a1a" stroke-width="0.1" >0</text>
<line x1="395.70" y1="165.78" x2="397.50" y2="165.78" stroke="#222222" stroke-width="0.9"/>
<text x="391.90" y="168.18" font-size="6.7" text-anchor="end" fill="#1a1a1a" stroke="#1a1a1a" stroke-width="0.1" >20</text>
<line x1="395.70" y1="154.06" x2="397.50" y2="154.06" stroke="#222222" stroke-width="0.9"/>
<text x="391.90" y="156.46" font-size="6.7" text-anchor="end" fill="#1a1a1a" stroke="#1a1a1a" stroke-width="0.1" >40</text>
<line x1="395.70" y1="142.34" x2="397.50" y2="142.34" stroke="#222222" stroke-width="0.9"/>
<text x="391.90" y="144.74" font-size="6.7" text-anchor="end" fill="#1a1a1a" stroke="#1a1a1a" stroke-width="0.1" >60</text>
<line x1="395.70" y1="130.62" x2="397.50" y2="130.62" stroke="#222222" stroke-width="0.9"/>
<text x="391.90" y="133.02" font-size="6.7" text-anchor="end" fill="#1a1a1a" stroke="#1a1a1a" stroke-width="0.1" >80</text>
<line x1="395.70" y1="118.90" x2="397.50" y2="118.90" stroke="#222222" stroke-width="0.9"/>
<text x="391.90" y="121.30" font-size="6.7" text-anchor="end" fill="#1a1a1a" stroke="#1a1a1a" stroke-width="0.1" >100</text>
<line x1="397.50" y1="177.50" x2="397.50" y2="179.70" stroke="#222222" stroke-width="0.9"/>
<text x="397.50" y="187.90" font-size="6.7" text-anchor="middle" fill="#1a1a1a" stroke="#1a1a1a" stroke-width="0.1" >0</text>
<line x1="415.44" y1="177.50" x2="415.44" y2="179.70" stroke="#222222" stroke-width="0.9"/>
<text x="415.44" y="187.90" font-size="6.7" text-anchor="middle" fill="#1a1a1a" stroke="#1a1a1a" stroke-width="0.1" >2</text>
<line x1="433.38" y1="177.50" x2="433.38" y2="179.70" stroke="#222222" stroke-width="0.9"/>
<text x="433.38" y="187.90" font-size="6.7" text-anchor="middle" fill="#1a1a1a" stroke="#1a1a1a" stroke-width="0.1" >4</text>
<line x1="451.32" y1="177.50" x2="451.32" y2="179.70" stroke="#222222" stroke-width="0.9"/>
<text x="451.32" y="187.90" font-size="6.7" text-anchor="middle" fill="#1a1a1a" stroke="#1a1a1a" stroke-width="0.1" >6</text>
<line x1="469.26" y1="177.50" x2="469.26" y2="179.70" stroke="#222222" stroke-width="0.9"/>
<text x="469.26" y="187.90" font-size="6.7" text-anchor="middle" fill="#1a1a1a" stroke="#1a1a1a" stroke-width="0.1" >8</text>
<text x="435.62" y="195.80" font-size="6.7" text-anchor="middle" fill="#1a1a1a" stroke="#1a1a1a" stroke-width="0.1" >Time (h)</text>
<text x="0" y="0" font-size="6.7" text-anchor="middle" fill="#1a1a1a" stroke="#1a1a1a" stroke-width="0.1" transform="translate(381.30,146.90) rotate(-90)">Alive (%)</text>
<polyline points="397.50,118.90 424.41,118.90 433.38,118.90 442.35,138.82 451.32,166.95 460.29,175.74 469.26,177.50" fill="none" stroke="#111111" stroke-width="1.3" stroke-linejoin="round"/>
<circle cx="397.50" cy="118.90" r="1.9" fill="#111111"/>
<circle cx="424.41" cy="118.90" r="1.9" fill="#111111"/>
<circle cx="433.38" cy="118.90" r="1.9" fill="#111111"/>
<circle cx="442.35" cy="138.82" r="1.9" fill="#111111"/>
<circle cx="451.32" cy="166.95" r="1.9" fill="#111111"/>
<circle cx="460.29" cy="175.74" r="1.9" fill="#111111"/>
<circle cx="469.26" cy="177.50" r="1.9" fill="#111111"/>
<polyline points="397.50,118.90 424.41,118.90 433.38,118.90 442.35,121.83 451.32,138.82 460.29,167.54 469.26,177.50" fill="none" stroke="#2e3192" stroke-width="1.15" stroke-linejoin="round"/>
<circle cx="397.50" cy="118.90" r="1.9" fill="#2e3192"/>
<circle cx="424.41" cy="118.90" r="1.9" fill="#2e3192"/>
<circle cx="433.38" cy="118.90" r="1.9" fill="#2e3192"/>
<circle cx="442.35" cy="121.83" r="1.9" fill="#2e3192"/>
<circle cx="451.32" cy="138.82" r="1.9" fill="#2e3192"/>
<circle cx="460.29" cy="167.54" r="1.9" fill="#2e3192"/>
<circle cx="469.26" cy="177.50" r="1.9" fill="#2e3192"/>
<text x="401.70" y="164.00" font-size="7.9" text-anchor="start" fill="#222" stroke="#222" stroke-width="0.1" >F1</text>
<text x="401.70" y="173.68" font-size="6.6" text-anchor="start" fill="#b9282f" stroke="#b9282f" stroke-width="0.1" ><tspan font-style="italic">P</tspan> &lt; 0.0001</text>
<line x1="502.50" y1="92.50" x2="576.26" y2="92.50" stroke="#222222" stroke-width="1.1"/>
<line x1="504.50" y1="94.50" x2="504.50" y2="33.60" stroke="#222222" stroke-width="1.0"/>
<line x1="502.70" y1="92.50" x2="504.50" y2="92.50" stroke="#222222" stroke-width="0.9"/>
<text x="498.90" y="94.90" font-size="6.7" text-anchor="end" fill="#1a1a1a" stroke="#1a1a1a" stroke-width="0.1" >0</text>
<line x1="502.70" y1="80.72" x2="504.50" y2="80.72" stroke="#222222" stroke-width="0.9"/>
<text x="498.90" y="83.12" font-size="6.7" text-anchor="end" fill="#1a1a1a" stroke="#1a1a1a" stroke-width="0.1" >20</text>
<line x1="502.70" y1="68.94" x2="504.50" y2="68.94" stroke="#222222" stroke-width="0.9"/>
<text x="498.90" y="71.34" font-size="6.7" text-anchor="end" fill="#1a1a1a" stroke="#1a1a1a" stroke-width="0.1" >40</text>
<line x1="502.70" y1="57.16" x2="504.50" y2="57.16" stroke="#222222" stroke-width="0.9"/>
<text x="498.90" y="59.56" font-size="6.7" text-anchor="end" fill="#1a1a1a" stroke="#1a1a1a" stroke-width="0.1" >60</text>
<line x1="502.70" y1="45.38" x2="504.50" y2="45.38" stroke="#222222" stroke-width="0.9"/>
<text x="498.90" y="47.78" font-size="6.7" text-anchor="end" fill="#1a1a1a" stroke="#1a1a1a" stroke-width="0.1" >80</text>
<line x1="502.70" y1="33.60" x2="504.50" y2="33.60" stroke="#222222" stroke-width="0.9"/>
<text x="498.90" y="36.00" font-size="6.7" text-anchor="end" fill="#1a1a1a" stroke="#1a1a1a" stroke-width="0.1" >100</text>
<line x1="504.50" y1="92.50" x2="504.50" y2="94.70" stroke="#222222" stroke-width="0.9"/>
<text x="504.50" y="102.20" font-size="6.7" text-anchor="middle" fill="#1a1a1a" stroke="#1a1a1a" stroke-width="0.1" >0</text>
<line x1="522.44" y1="92.50" x2="522.44" y2="94.70" stroke="#222222" stroke-width="0.9"/>
<text x="522.44" y="102.20" font-size="6.7" text-anchor="middle" fill="#1a1a1a" stroke="#1a1a1a" stroke-width="0.1" >2</text>
<line x1="540.38" y1="92.50" x2="540.38" y2="94.70" stroke="#222222" stroke-width="0.9"/>
<text x="540.38" y="102.20" font-size="6.7" text-anchor="middle" fill="#1a1a1a" stroke="#1a1a1a" stroke-width="0.1" >4</text>
<line x1="558.32" y1="92.50" x2="558.32" y2="94.70" stroke="#222222" stroke-width="0.9"/>
<text x="558.32" y="102.20" font-size="6.7" text-anchor="middle" fill="#1a1a1a" stroke="#1a1a1a" stroke-width="0.1" >6</text>
<line x1="576.26" y1="92.50" x2="576.26" y2="94.70" stroke="#222222" stroke-width="0.9"/>
<text x="576.26" y="102.20" font-size="6.7" text-anchor="middle" fill="#1a1a1a" stroke="#1a1a1a" stroke-width="0.1" >8</text>
<text x="540.38" y="109.70" font-size="6.7" text-anchor="middle" fill="#1a1a1a" stroke="#1a1a1a" stroke-width="0.1" >Time (h)</text>
<text x="0" y="0" font-size="6.7" text-anchor="middle" fill="#1a1a1a" stroke="#1a1a1a" stroke-width="0.1" transform="translate(488.30,61.75) rotate(-90)">Alive (%)</text>
<polyline points="504.50,33.60 531.41,33.60 540.38,34.78 549.35,61.87 558.32,86.61 567.29,92.50" fill="none" stroke="#111111" stroke-width="1.3" stroke-linejoin="round"/>
<circle cx="504.50" cy="33.60" r="1.9" fill="#111111"/>
<circle cx="531.41" cy="33.60" r="1.9" fill="#111111"/>
<circle cx="540.38" cy="34.78" r="1.9" fill="#111111"/>
<circle cx="549.35" cy="61.87" r="1.9" fill="#111111"/>
<circle cx="558.32" cy="86.61" r="1.9" fill="#111111"/>
<circle cx="567.29" cy="92.50" r="1.9" fill="#111111"/>
<polyline points="504.50,33.60 531.41,33.60 540.38,33.60 549.35,53.04 558.32,79.54 567.29,91.91 576.26,92.50" fill="none" stroke="#2e3192" stroke-width="1.15" stroke-linejoin="round"/>
<circle cx="504.50" cy="33.60" r="1.9" fill="#2e3192"/>
<circle cx="531.41" cy="33.60" r="1.9" fill="#2e3192"/>
<circle cx="540.38" cy="33.60" r="1.9" fill="#2e3192"/>
<circle cx="549.35" cy="53.04" r="1.9" fill="#2e3192"/>
<circle cx="558.32" cy="79.54" r="1.9" fill="#2e3192"/>
<circle cx="567.29" cy="91.91" r="1.9" fill="#2e3192"/>
<circle cx="576.26" cy="92.50" r="1.9" fill="#2e3192"/>
<text x="508.70" y="79.00" font-size="7.9" text-anchor="start" fill="#222" stroke="#222" stroke-width="0.1" >P0</text>
<text x="508.70" y="88.68" font-size="6.6" text-anchor="start" fill="#222" stroke="#222" stroke-width="0.1" ><tspan font-style="italic">P</tspan> = 0.0527</text>
<line x1="502.50" y1="177.50" x2="576.26" y2="177.50" stroke="#222222" stroke-width="1.1"/>
<line x1="504.50" y1="179.50" x2="504.50" y2="118.90" stroke="#222222" stroke-width="1.0"/>
<line x1="502.70" y1="177.50" x2="504.50" y2="177.50" stroke="#222222" stroke-width="0.9"/>
<text x="498.90" y="179.90" font-size="6.7" text-anchor="end" fill="#1a1a1a" stroke="#1a1a1a" stroke-width="0.1" >0</text>
<line x1="502.70" y1="165.78" x2="504.50" y2="165.78" stroke="#222222" stroke-width="0.9"/>
<text x="498.90" y="168.18" font-size="6.7" text-anchor="end" fill="#1a1a1a" stroke="#1a1a1a" stroke-width="0.1" >20</text>
<line x1="502.70" y1="154.06" x2="504.50" y2="154.06" stroke="#222222" stroke-width="0.9"/>
<text x="498.90" y="156.46" font-size="6.7" text-anchor="end" fill="#1a1a1a" stroke="#1a1a1a" stroke-width="0.1" >40</text>
<line x1="502.70" y1="142.34" x2="504.50" y2="142.34" stroke="#222222" stroke-width="0.9"/>
<text x="498.90" y="144.74" font-size="6.7" text-anchor="end" fill="#1a1a1a" stroke="#1a1a1a" stroke-width="0.1" >60</text>
<line x1="502.70" y1="130.62" x2="504.50" y2="130.62" stroke="#222222" stroke-width="0.9"/>
<text x="498.90" y="133.02" font-size="6.7" text-anchor="end" fill="#1a1a1a" stroke="#1a1a1a" stroke-width="0.1" >80</text>
<line x1="502.70" y1="118.90" x2="504.50" y2="118.90" stroke="#222222" stroke-width="0.9"/>
<text x="498.90" y="121.30" font-size="6.7" text-anchor="end" fill="#1a1a1a" stroke="#1a1a1a" stroke-width="0.1" >100</text>
<line x1="504.50" y1="177.50" x2="504.50" y2="179.70" stroke="#222222" stroke-width="0.9"/>
<text x="504.50" y="187.90" font-size="6.7" text-anchor="middle" fill="#1a1a1a" stroke="#1a1a1a" stroke-width="0.1" >0</text>
<line x1="522.44" y1="177.50" x2="522.44" y2="179.70" stroke="#222222" stroke-width="0.9"/>
<text x="522.44" y="187.90" font-size="6.7" text-anchor="middle" fill="#1a1a1a" stroke="#1a1a1a" stroke-width="0.1" >2</text>
<line x1="540.38" y1="177.50" x2="540.38" y2="179.70" stroke="#222222" stroke-width="0.9"/>
<text x="540.38" y="187.90" font-size="6.7" text-anchor="middle" fill="#1a1a1a" stroke="#1a1a1a" stroke-width="0.1" >4</text>
<line x1="558.32" y1="177.50" x2="558.32" y2="179.70" stroke="#222222" stroke-width="0.9"/>
<text x="558.32" y="187.90" font-size="6.7" text-anchor="middle" fill="#1a1a1a" stroke="#1a1a1a" stroke-width="0.1" >6</text>
<line x1="576.26" y1="177.50" x2="576.26" y2="179.70" stroke="#222222" stroke-width="0.9"/>
<text x="576.26" y="187.90" font-size="6.7" text-anchor="middle" fill="#1a1a1a" stroke="#1a1a1a" stroke-width="0.1" >8</text>
<text x="540.38" y="195.80" font-size="6.7" text-anchor="middle" fill="#1a1a1a" stroke="#1a1a1a" stroke-width="0.1" >Time (h)</text>
<text x="0" y="0" font-size="6.7" text-anchor="middle" fill="#1a1a1a" stroke="#1a1a1a" stroke-width="0.1" transform="translate(488.30,146.90) rotate(-90)">Alive (%)</text>
<polyline points="504.50,118.90 531.41,118.90 540.38,120.66 549.35,140.58 558.32,167.54 567.29,176.33 576.26,177.50" fill="none" stroke="#111111" stroke-width="1.3" stroke-linejoin="round"/>
<circle cx="504.50" cy="118.90" r="1.9" fill="#111111"/>
<circle cx="531.41" cy="118.90" r="1.9" fill="#111111"/>
<circle cx="540.38" cy="120.66" r="1.9" fill="#111111"/>
<circle cx="549.35" cy="140.58" r="1.9" fill="#111111"/>
<circle cx="558.32" cy="167.54" r="1.9" fill="#111111"/>
<circle cx="567.29" cy="176.33" r="1.9" fill="#111111"/>
<circle cx="576.26" cy="177.50" r="1.9" fill="#111111"/>
<polyline points="504.50,118.90 531.41,118.90 540.38,120.66 549.35,135.31 558.32,169.88 567.29,176.33 576.26,177.50" fill="none" stroke="#2e3192" stroke-width="1.15" stroke-linejoin="round"/>
<circle cx="504.50" cy="118.90" r="1.9" fill="#2e3192"/>
<circle cx="531.41" cy="118.90" r="1.9" fill="#2e3192"/>
<circle cx="540.38" cy="120.66" r="1.9" fill="#2e3192"/>
<circle cx="549.35" cy="135.31" r="1.9" fill="#2e3192"/>
<circle cx="558.32" cy="169.88" r="1.9" fill="#2e3192"/>
<circle cx="567.29" cy="176.33" r="1.9" fill="#2e3192"/>
<circle cx="576.26" cy="177.50" r="1.9" fill="#2e3192"/>
<text x="508.70" y="164.00" font-size="7.9" text-anchor="start" fill="#222" stroke="#222" stroke-width="0.1" >F1</text>
<text x="508.70" y="173.68" font-size="6.6" text-anchor="start" fill="#222" stroke="#222" stroke-width="0.1" ><tspan font-style="italic">P</tspan> = 1</text>
<line x1="608.90" y1="92.50" x2="681.94" y2="92.50" stroke="#222222" stroke-width="1.1"/>
<line x1="610.90" y1="94.50" x2="610.90" y2="33.60" stroke="#8a8a8a" stroke-width="1.5"/>
<line x1="609.10" y1="92.50" x2="610.90" y2="92.50" stroke="#222222" stroke-width="0.9"/>
<text x="605.30" y="94.90" font-size="6.7" text-anchor="end" fill="#1a1a1a" stroke="#1a1a1a" stroke-width="0.1" >0</text>
<line x1="609.10" y1="80.72" x2="610.90" y2="80.72" stroke="#222222" stroke-width="0.9"/>
<text x="605.30" y="83.12" font-size="6.7" text-anchor="end" fill="#1a1a1a" stroke="#1a1a1a" stroke-width="0.1" >20</text>
<line x1="609.10" y1="68.94" x2="610.90" y2="68.94" stroke="#222222" stroke-width="0.9"/>
<text x="605.30" y="71.34" font-size="6.7" text-anchor="end" fill="#1a1a1a" stroke="#1a1a1a" stroke-width="0.1" >40</text>
<line x1="609.10" y1="57.16" x2="610.90" y2="57.16" stroke="#222222" stroke-width="0.9"/>
<text x="605.30" y="59.56" font-size="6.7" text-anchor="end" fill="#1a1a1a" stroke="#1a1a1a" stroke-width="0.1" >60</text>
<line x1="609.10" y1="45.38" x2="610.90" y2="45.38" stroke="#222222" stroke-width="0.9"/>
<text x="605.30" y="47.78" font-size="6.7" text-anchor="end" fill="#1a1a1a" stroke="#1a1a1a" stroke-width="0.1" >80</text>
<line x1="609.10" y1="33.60" x2="610.90" y2="33.60" stroke="#222222" stroke-width="0.9"/>
<text x="605.30" y="36.00" font-size="6.7" text-anchor="end" fill="#1a1a1a" stroke="#1a1a1a" stroke-width="0.1" >100</text>
<line x1="610.90" y1="92.50" x2="610.90" y2="94.70" stroke="#222222" stroke-width="0.9"/>
<text x="610.90" y="102.20" font-size="6.7" text-anchor="middle" fill="#1a1a1a" stroke="#1a1a1a" stroke-width="0.1" >0</text>
<line x1="628.66" y1="92.50" x2="628.66" y2="94.70" stroke="#222222" stroke-width="0.9"/>
<text x="628.66" y="102.20" font-size="6.7" text-anchor="middle" fill="#1a1a1a" stroke="#1a1a1a" stroke-width="0.1" >2</text>
<line x1="646.42" y1="92.50" x2="646.42" y2="94.70" stroke="#222222" stroke-width="0.9"/>
<text x="646.42" y="102.20" font-size="6.7" text-anchor="middle" fill="#1a1a1a" stroke="#1a1a1a" stroke-width="0.1" >4</text>
<line x1="664.18" y1="92.50" x2="664.18" y2="94.70" stroke="#222222" stroke-width="0.9"/>
<text x="664.18" y="102.20" font-size="6.7" text-anchor="middle" fill="#1a1a1a" stroke="#1a1a1a" stroke-width="0.1" >6</text>
<line x1="681.94" y1="92.50" x2="681.94" y2="94.70" stroke="#222222" stroke-width="0.9"/>
<text x="681.94" y="102.20" font-size="6.7" text-anchor="middle" fill="#1a1a1a" stroke="#1a1a1a" stroke-width="0.1" >8</text>
<text x="646.42" y="109.70" font-size="6.7" text-anchor="middle" fill="#1a1a1a" stroke="#1a1a1a" stroke-width="0.1" >Time (h)</text>
<text x="0" y="0" font-size="6.7" text-anchor="middle" fill="#1a1a1a" stroke="#1a1a1a" stroke-width="0.1" transform="translate(594.70,61.75) rotate(-90)">Alive (%)</text>
<polyline points="610.90,33.60 637.54,33.60 646.42,33.60 655.30,47.74 664.18,80.13 673.06,91.91 681.94,92.50" fill="none" stroke="#111111" stroke-width="1.3" stroke-linejoin="round"/>
<circle cx="610.90" cy="33.60" r="1.9" fill="#111111"/>
<circle cx="637.54" cy="33.60" r="1.9" fill="#111111"/>
<circle cx="646.42" cy="33.60" r="1.9" fill="#111111"/>
<circle cx="655.30" cy="47.74" r="1.9" fill="#111111"/>
<circle cx="664.18" cy="80.13" r="1.9" fill="#111111"/>
<circle cx="673.06" cy="91.91" r="1.9" fill="#111111"/>
<circle cx="681.94" cy="92.50" r="1.9" fill="#111111"/>
<polyline points="610.90,33.60 637.54,33.60 646.42,33.60 655.30,36.55 664.18,51.27 673.06,74.83 681.94,89.56" fill="none" stroke="#2e3192" stroke-width="1.15" stroke-linejoin="round"/>
<circle cx="610.90" cy="33.60" r="1.9" fill="#2e3192"/>
<circle cx="637.54" cy="33.60" r="1.9" fill="#2e3192"/>
<circle cx="646.42" cy="33.60" r="1.9" fill="#2e3192"/>
<circle cx="655.30" cy="36.55" r="1.9" fill="#2e3192"/>
<circle cx="664.18" cy="51.27" r="1.9" fill="#2e3192"/>
<circle cx="673.06" cy="74.83" r="1.9" fill="#2e3192"/>
<circle cx="681.94" cy="89.56" r="1.9" fill="#2e3192"/>
<text x="617.00" y="78.60" font-size="7.9" text-anchor="start" fill="#222" stroke="#222" stroke-width="0.1" >P0</text>
<text x="617.00" y="88.56" font-size="6.6" text-anchor="start" fill="#b9282f" stroke="#b9282f" stroke-width="0.1" ><tspan font-style="italic">P</tspan> &lt; 0.0001</text>
<line x1="608.95" y1="177.50" x2="681.99" y2="177.50" stroke="#222222" stroke-width="1.1"/>
<line x1="610.95" y1="179.50" x2="610.95" y2="118.90" stroke="#8a8a8a" stroke-width="1.5"/>
<line x1="609.15" y1="177.50" x2="610.95" y2="177.50" stroke="#222222" stroke-width="0.9"/>
<text x="605.35" y="179.90" font-size="6.7" text-anchor="end" fill="#1a1a1a" stroke="#1a1a1a" stroke-width="0.1" >0</text>
<line x1="609.15" y1="165.78" x2="610.95" y2="165.78" stroke="#222222" stroke-width="0.9"/>
<text x="605.35" y="168.18" font-size="6.7" text-anchor="end" fill="#1a1a1a" stroke="#1a1a1a" stroke-width="0.1" >20</text>
<line x1="609.15" y1="154.06" x2="610.95" y2="154.06" stroke="#222222" stroke-width="0.9"/>
<text x="605.35" y="156.46" font-size="6.7" text-anchor="end" fill="#1a1a1a" stroke="#1a1a1a" stroke-width="0.1" >40</text>
<line x1="609.15" y1="142.34" x2="610.95" y2="142.34" stroke="#222222" stroke-width="0.9"/>
<text x="605.35" y="144.74" font-size="6.7" text-anchor="end" fill="#1a1a1a" stroke="#1a1a1a" stroke-width="0.1" >60</text>
<line x1="609.15" y1="130.62" x2="610.95" y2="130.62" stroke="#222222" stroke-width="0.9"/>
<text x="605.35" y="133.02" font-size="6.7" text-anchor="end" fill="#1a1a1a" stroke="#1a1a1a" stroke-width="0.1" >80</text>
<line x1="609.15" y1="118.90" x2="610.95" y2="118.90" stroke="#222222" stroke-width="0.9"/>
<text x="605.35" y="121.30" font-size="6.7" text-anchor="end" fill="#1a1a1a" stroke="#1a1a1a" stroke-width="0.1" >100</text>
<line x1="610.95" y1="177.50" x2="610.95" y2="179.70" stroke="#222222" stroke-width="0.9"/>
<text x="610.95" y="187.90" font-size="6.7" text-anchor="middle" fill="#1a1a1a" stroke="#1a1a1a" stroke-width="0.1" >0</text>
<line x1="628.71" y1="177.50" x2="628.71" y2="179.70" stroke="#222222" stroke-width="0.9"/>
<text x="628.71" y="187.90" font-size="6.7" text-anchor="middle" fill="#1a1a1a" stroke="#1a1a1a" stroke-width="0.1" >2</text>
<line x1="646.47" y1="177.50" x2="646.47" y2="179.70" stroke="#222222" stroke-width="0.9"/>
<text x="646.47" y="187.90" font-size="6.7" text-anchor="middle" fill="#1a1a1a" stroke="#1a1a1a" stroke-width="0.1" >4</text>
<line x1="664.23" y1="177.50" x2="664.23" y2="179.70" stroke="#222222" stroke-width="0.9"/>
<text x="664.23" y="187.90" font-size="6.7" text-anchor="middle" fill="#1a1a1a" stroke="#1a1a1a" stroke-width="0.1" >6</text>
<line x1="681.99" y1="177.50" x2="681.99" y2="179.70" stroke="#222222" stroke-width="0.9"/>
<text x="681.99" y="187.90" font-size="6.7" text-anchor="middle" fill="#1a1a1a" stroke="#1a1a1a" stroke-width="0.1" >8</text>
<text x="646.47" y="195.80" font-size="6.7" text-anchor="middle" fill="#1a1a1a" stroke="#1a1a1a" stroke-width="0.1" >Time (h)</text>
<text x="0" y="0" font-size="6.7" text-anchor="middle" fill="#1a1a1a" stroke="#1a1a1a" stroke-width="0.1" transform="translate(594.75,146.90) rotate(-90)">Alive (%)</text>
<polyline points="610.95,118.90 637.59,118.90 646.47,118.90 655.35,127.10 664.23,159.33 673.11,173.40 681.99,176.91" fill="none" stroke="#111111" stroke-width="1.3" stroke-linejoin="round"/>
<circle cx="610.95" cy="118.90" r="1.9" fill="#111111"/>
<circle cx="637.59" cy="118.90" r="1.9" fill="#111111"/>
<circle cx="646.47" cy="118.90" r="1.9" fill="#111111"/>
<circle cx="655.35" cy="127.10" r="1.9" fill="#111111"/>
<circle cx="664.23" cy="159.33" r="1.9" fill="#111111"/>
<circle cx="673.11" cy="173.40" r="1.9" fill="#111111"/>
<circle cx="681.99" cy="176.91" r="1.9" fill="#111111"/>
<polyline points="610.95,118.90 637.59,118.90 646.47,118.90 655.35,124.17 664.23,158.75 673.11,174.57 681.99,177.50" fill="none" stroke="#2e3192" stroke-width="1.15" stroke-linejoin="round"/>
<circle cx="610.95" cy="118.90" r="1.9" fill="#2e3192"/>
<circle cx="637.59" cy="118.90" r="1.9" fill="#2e3192"/>
<circle cx="646.47" cy="118.90" r="1.9" fill="#2e3192"/>
<circle cx="655.35" cy="124.17" r="1.9" fill="#2e3192"/>
<circle cx="664.23" cy="158.75" r="1.9" fill="#2e3192"/>
<circle cx="673.11" cy="174.57" r="1.9" fill="#2e3192"/>
<circle cx="681.99" cy="177.50" r="1.9" fill="#2e3192"/>
<text x="617.05" y="163.60" font-size="7.9" text-anchor="start" fill="#222" stroke="#222" stroke-width="0.1" >F1</text>
<text x="617.05" y="173.56" font-size="6.6" text-anchor="start" fill="#222" stroke="#222" stroke-width="0.1" ><tspan font-style="italic">P</tspan> = 1</text>
<line x1="393.30" y1="204.90" x2="403.10" y2="204.90" stroke="#111111" stroke-width="1.2"/>
<circle cx="398.20" cy="204.90" r="1.5" fill="#111111"/>
<text x="406.70" y="207.70" font-size="7.7" text-anchor="start" fill="#1a1a1a" stroke="#1a1a1a" stroke-width="0.1" >WT</text>
<line x1="393.30" y1="214.10" x2="403.10" y2="214.10" stroke="#2e3192" stroke-width="1.2"/>
<circle cx="398.20" cy="214.10" r="1.5" fill="#2e3192"/>
<text x="406.70" y="216.90" font-size="7.7" text-anchor="start" fill="#1a1a1a" stroke="#1a1a1a" stroke-width="0.1" >WT osm</text>
<line x1="500.60" y1="204.90" x2="510.40" y2="204.90" stroke="#111111" stroke-width="1.2"/>
<circle cx="505.50" cy="204.90" r="1.5" fill="#111111"/>
<text x="514.00" y="207.70" font-size="7.7" text-anchor="start" fill="#1a1a1a" stroke="#1a1a1a" stroke-width="0.1" ><tspan font-style="italic">rgef-1p</tspan>::Cas9</text>
<text x="514.00" y="216.00" font-size="7.7" text-anchor="start" fill="#1a1a1a" stroke="#1a1a1a" stroke-width="0.1" >sgRNA <tspan font-style="italic">drsh-1</tspan></text>
<line x1="500.60" y1="224.40" x2="510.40" y2="224.40" stroke="#2e3192" stroke-width="1.2"/>
<circle cx="505.50" cy="224.40" r="1.5" fill="#2e3192"/>
<text x="514.00" y="227.20" font-size="7.7" text-anchor="start" fill="#1a1a1a" stroke="#1a1a1a" stroke-width="0.1" ><tspan font-style="italic">rgef-1p</tspan>::Cas9</text>
<text x="514.00" y="235.50" font-size="7.7" text-anchor="start" fill="#1a1a1a" stroke="#1a1a1a" stroke-width="0.1" >sgRNA <tspan font-style="italic">drsh-1</tspan> osm</text>
<line x1="606.80" y1="204.90" x2="616.60" y2="204.90" stroke="#111111" stroke-width="1.2"/>
<circle cx="611.70" cy="204.90" r="1.5" fill="#111111"/>
<text x="620.20" y="207.70" font-size="7.7" text-anchor="start" fill="#1a1a1a" stroke="#1a1a1a" stroke-width="0.1" ><tspan font-style="italic">gly-19p</tspan>::Cas9</text>
<text x="620.20" y="216.00" font-size="7.7" text-anchor="start" fill="#1a1a1a" stroke="#1a1a1a" stroke-width="0.1" >sgRNA <tspan font-style="italic">drsh-1</tspan></text>
<line x1="606.80" y1="224.40" x2="616.60" y2="224.40" stroke="#2e3192" stroke-width="1.2"/>
<circle cx="611.70" cy="224.40" r="1.5" fill="#2e3192"/>
<text x="620.20" y="227.20" font-size="7.7" text-anchor="start" fill="#1a1a1a" stroke="#1a1a1a" stroke-width="0.1" ><tspan font-style="italic">gly-19p</tspan>::Cas9</text>
<text x="620.20" y="235.50" font-size="7.7" text-anchor="start" fill="#1a1a1a" stroke="#1a1a1a" stroke-width="0.1" >sgRNA <tspan font-style="italic">drsh-1</tspan> osm</text>
<text x="-0.60" y="253.20" font-size="19" text-anchor="start" fill="#111" stroke="#111" stroke-width="0.1" >c</text>
<text x="42.00" y="285.60" font-size="15.2" text-anchor="start" fill="#111" stroke="#111" stroke-width="0.1" font-weight="bold">P0</text>
<text x="42.20" y="346.90" font-size="15.2" text-anchor="start" fill="#111" stroke="#111" stroke-width="0.1" font-weight="bold">F1</text>
<text x="228.40" y="265.40" font-size="7.1" text-anchor="middle" fill="#1a1a1a" stroke="#1a1a1a" stroke-width="0.1" ><tspan font-style="italic">gly-19p</tspan>::Cas9 sgRNA</text>
<text x="228.40" y="273.20" font-size="7.1" text-anchor="middle" fill="#1a1a1a" stroke="#1a1a1a" stroke-width="0.1" >&amp; marker</text>
<text x="100.60" y="319.00" font-size="7.1" text-anchor="middle" fill="#1a1a1a" stroke="#1a1a1a" stroke-width="0.1" ><tspan font-style="italic">gly-19p</tspan>::Cas9 sgRNA</text>
<text x="100.60" y="326.80" font-size="7.1" text-anchor="middle" fill="#1a1a1a" stroke="#1a1a1a" stroke-width="0.1" >&amp; marker</text>
<text x="231.00" y="326.80" font-size="7.1" text-anchor="middle" fill="#1a1a1a" stroke="#1a1a1a" stroke-width="0.1" >No array</text>
<line x1="164.8" y1="296.1" x2="141.5" y2="319.2" stroke="#1a1a1a" stroke-width="1.15"/>
<polyline points="146.90,319.22 141.5,319.2 141.53,313.80" fill="none" stroke="#1a1a1a" stroke-width="1.15"/>
<line x1="185.5" y1="296.1" x2="208.8" y2="319.2" stroke="#1a1a1a" stroke-width="1.15"/>
<polyline points="208.77,313.80 208.8,319.2 203.40,319.22" fill="none" stroke="#1a1a1a" stroke-width="1.15"/>
<path d="M146.60,273.70 C146.77,273.23 147.08,272.32 148.20,272.40 C149.32,272.48 151.60,273.30 153.30,274.20 C155.00,275.10 156.70,276.65 158.40,277.80 C160.10,278.95 162.13,280.52 163.50,281.10 C164.87,281.68 165.40,281.60 166.60,281.30 C167.80,281.00 169.17,280.32 170.70,279.30 C172.23,278.28 174.10,276.05 175.80,275.20 C177.50,274.35 179.20,274.20 180.90,274.20 C182.60,274.20 184.30,274.60 186.00,275.20 C187.70,275.80 189.40,277.37 191.10,277.80 C192.80,278.23 194.50,278.23 196.20,277.80 C197.90,277.37 200.02,275.97 201.30,275.20 C202.58,274.43 203.90,272.68 203.90,273.20 C203.90,273.72 202.42,276.77 201.30,278.30 C200.18,279.83 198.73,281.55 197.20,282.40 C195.67,283.25 193.63,283.48 192.10,283.40 C190.57,283.32 189.53,282.50 188.00,281.90 C186.47,281.30 184.43,280.15 182.90,279.80 C181.37,279.45 180.17,279.37 178.80,279.80 C177.43,280.23 176.23,281.38 174.70,282.40 C173.17,283.42 171.13,285.13 169.60,285.90 C168.07,286.67 167.03,287.25 165.50,287.00 C163.97,286.75 162.10,285.68 160.40,284.40 C158.70,283.12 157.00,280.67 155.30,279.30 C153.60,277.93 151.55,276.88 150.20,276.20 C148.85,275.52 147.80,275.62 147.20,275.20 C146.60,274.78 146.43,274.17 146.60,273.70 Z" fill="#b5173f" stroke="#2a0a12" stroke-width="0.8"/>
<path d="M146.60,273.70 C146.77,273.23 147.08,272.32 148.20,272.40 C149.32,272.48 151.60,273.30 153.30,274.20 C155.00,275.10 156.70,276.65 158.40,277.80 C160.10,278.95 162.13,280.52 163.50,281.10 C164.87,281.68 165.40,281.60 166.60,281.30 C167.80,281.00 169.17,280.32 170.70,279.30 C172.23,278.28 174.10,276.05 175.80,275.20 C177.50,274.35 179.20,274.20 180.90,274.20 C182.60,274.20 184.30,274.60 186.00,275.20 C187.70,275.80 189.40,277.37 191.10,277.80 C192.80,278.23 194.50,278.23 196.20,277.80 C197.90,277.37 200.02,275.97 201.30,275.20 C202.58,274.43 203.90,272.68 203.90,273.20 C203.90,273.72 202.42,276.77 201.30,278.30 C200.18,279.83 198.73,281.55 197.20,282.40 C195.67,283.25 193.63,283.48 192.10,283.40 C190.57,283.32 189.53,282.50 188.00,281.90 C186.47,281.30 184.43,280.15 182.90,279.80 C181.37,279.45 180.17,279.37 178.80,279.80 C177.43,280.23 176.23,281.38 174.70,282.40 C173.17,283.42 171.13,285.13 169.60,285.90 C168.07,286.67 167.03,287.25 165.50,287.00 C163.97,286.75 162.10,285.68 160.40,284.40 C158.70,283.12 157.00,280.67 155.30,279.30 C153.60,277.93 151.55,276.88 150.20,276.20 C148.85,275.52 147.80,275.62 147.20,275.20 C146.60,274.78 146.43,274.17 146.60,273.70 Z" fill="#b5173f" stroke="#2a0a12" stroke-width="0.8" transform="translate(-46.5,60.7)"/>
<path d="M146.60,273.70 C146.77,273.23 147.08,272.32 148.20,272.40 C149.32,272.48 151.60,273.30 153.30,274.20 C155.00,275.10 156.70,276.65 158.40,277.80 C160.10,278.95 162.13,280.52 163.50,281.10 C164.87,281.68 165.40,281.60 166.60,281.30 C167.80,281.00 169.17,280.32 170.70,279.30 C172.23,278.28 174.10,276.05 175.80,275.20 C177.50,274.35 179.20,274.20 180.90,274.20 C182.60,274.20 184.30,274.60 186.00,275.20 C187.70,275.80 189.40,277.37 191.10,277.80 C192.80,278.23 194.50,278.23 196.20,277.80 C197.90,277.37 200.02,275.97 201.30,275.20 C202.58,274.43 203.90,272.68 203.90,273.20 C203.90,273.72 202.42,276.77 201.30,278.30 C200.18,279.83 198.73,281.55 197.20,282.40 C195.67,283.25 193.63,283.48 192.10,283.40 C190.57,283.32 189.53,282.50 188.00,281.90 C186.47,281.30 184.43,280.15 182.90,279.80 C181.37,279.45 180.17,279.37 178.80,279.80 C177.43,280.23 176.23,281.38 174.70,282.40 C173.17,283.42 171.13,285.13 169.60,285.90 C168.07,286.67 167.03,287.25 165.50,287.00 C163.97,286.75 162.10,285.68 160.40,284.40 C158.70,283.12 157.00,280.67 155.30,279.30 C153.60,277.93 151.55,276.88 150.20,276.20 C148.85,275.52 147.80,275.62 147.20,275.20 C146.60,274.78 146.43,274.17 146.60,273.70 Z" fill="#e6e6e6" stroke="#333" stroke-width="0.8" transform="translate(46.3,60.7)"/>
<text x="358.60" y="252.60" font-size="19" text-anchor="start" fill="#111" stroke="#111" stroke-width="0.1" >d</text>
<line x1="394.50" y1="325.50" x2="468.10" y2="325.50" stroke="#222222" stroke-width="1.1"/>
<line x1="396.50" y1="327.50" x2="396.50" y2="266.20" stroke="#222222" stroke-width="1.0"/>
<line x1="394.70" y1="325.50" x2="396.50" y2="325.50" stroke="#222222" stroke-width="0.9"/>
<text x="390.90" y="327.90" font-size="6.7" text-anchor="end" fill="#1a1a1a" stroke="#1a1a1a" stroke-width="0.1" >0</text>
<line x1="394.70" y1="313.64" x2="396.50" y2="313.64" stroke="#222222" stroke-width="0.9"/>
<text x="390.90" y="316.04" font-size="6.7" text-anchor="end" fill="#1a1a1a" stroke="#1a1a1a" stroke-width="0.1" >20</text>
<line x1="394.70" y1="301.78" x2="396.50" y2="301.78" stroke="#222222" stroke-width="0.9"/>
<text x="390.90" y="304.18" font-size="6.7" text-anchor="end" fill="#1a1a1a" stroke="#1a1a1a" stroke-width="0.1" >40</text>
<line x1="394.70" y1="289.92" x2="396.50" y2="289.92" stroke="#222222" stroke-width="0.9"/>
<text x="390.90" y="292.32" font-size="6.7" text-anchor="end" fill="#1a1a1a" stroke="#1a1a1a" stroke-width="0.1" >60</text>
<line x1="394.70" y1="278.06" x2="396.50" y2="278.06" stroke="#222222" stroke-width="0.9"/>
<text x="390.90" y="280.46" font-size="6.7" text-anchor="end" fill="#1a1a1a" stroke="#1a1a1a" stroke-width="0.1" >80</text>
<line x1="394.70" y1="266.20" x2="396.50" y2="266.20" stroke="#222222" stroke-width="0.9"/>
<text x="390.90" y="268.60" font-size="6.7" text-anchor="end" fill="#1a1a1a" stroke="#1a1a1a" stroke-width="0.1" >100</text>
<line x1="396.50" y1="325.50" x2="396.50" y2="327.70" stroke="#222222" stroke-width="0.9"/>
<text x="396.50" y="335.90" font-size="6.7" text-anchor="middle" fill="#1a1a1a" stroke="#1a1a1a" stroke-width="0.1" >0</text>
<line x1="414.40" y1="325.50" x2="414.40" y2="327.70" stroke="#222222" stroke-width="0.9"/>
<text x="414.40" y="335.90" font-size="6.7" text-anchor="middle" fill="#1a1a1a" stroke="#1a1a1a" stroke-width="0.1" >2</text>
<line x1="432.30" y1="325.50" x2="432.30" y2="327.70" stroke="#222222" stroke-width="0.9"/>
<text x="432.30" y="335.90" font-size="6.7" text-anchor="middle" fill="#1a1a1a" stroke="#1a1a1a" stroke-width="0.1" >4</text>
<line x1="450.20" y1="325.50" x2="450.20" y2="327.70" stroke="#222222" stroke-width="0.9"/>
<text x="450.20" y="335.90" font-size="6.7" text-anchor="middle" fill="#1a1a1a" stroke="#1a1a1a" stroke-width="0.1" >6</text>
<line x1="468.10" y1="325.50" x2="468.10" y2="327.70" stroke="#222222" stroke-width="0.9"/>
<text x="468.10" y="335.90" font-size="6.7" text-anchor="middle" fill="#1a1a1a" stroke="#1a1a1a" stroke-width="0.1" >8</text>
<text x="432.30" y="343.10" font-size="6.7" text-anchor="middle" fill="#1a1a1a" stroke="#1a1a1a" stroke-width="0.1" >Time (h)</text>
<text x="0" y="0" font-size="6.7" text-anchor="middle" fill="#1a1a1a" stroke="#1a1a1a" stroke-width="0.1" transform="translate(380.30,294.55) rotate(-90)">Alive (%)</text>
<polyline points="396.50,266.20 423.35,266.20 432.30,266.20 441.25,286.95 450.20,320.76 459.15,325.50" fill="none" stroke="#111111" stroke-width="1.3" stroke-linejoin="round"/>
<circle cx="396.50" cy="266.20" r="1.9" fill="#111111"/>
<circle cx="423.35" cy="266.20" r="1.9" fill="#111111"/>
<circle cx="432.30" cy="266.20" r="1.9" fill="#111111"/>
<circle cx="441.25" cy="286.95" r="1.9" fill="#111111"/>
<circle cx="450.20" cy="320.76" r="1.9" fill="#111111"/>
<circle cx="459.15" cy="325.50" r="1.9" fill="#111111"/>
<polyline points="396.50,266.20 423.35,266.20 432.30,266.20 441.25,266.20 450.20,289.92 459.15,318.38 468.10,325.50" fill="none" stroke="#2e3192" stroke-width="1.15" stroke-linejoin="round"/>
<circle cx="396.50" cy="266.20" r="1.9" fill="#2e3192"/>
<circle cx="423.35" cy="266.20" r="1.9" fill="#2e3192"/>
<circle cx="432.30" cy="266.20" r="1.9" fill="#2e3192"/>
<circle cx="441.25" cy="266.20" r="1.9" fill="#2e3192"/>
<circle cx="450.20" cy="289.92" r="1.9" fill="#2e3192"/>
<circle cx="459.15" cy="318.38" r="1.9" fill="#2e3192"/>
<circle cx="468.10" cy="325.50" r="1.9" fill="#2e3192"/>
<text x="398.80" y="311.80" font-size="7.9" text-anchor="start" fill="#222" stroke="#222" stroke-width="0.1" >P0</text>
<text x="398.80" y="321.62" font-size="6.6" text-anchor="start" fill="#b9282f" stroke="#b9282f" stroke-width="0.1" ><tspan font-style="italic">P</tspan> &lt; 0.0001</text>
<line x1="500.00" y1="325.50" x2="573.60" y2="325.50" stroke="#222222" stroke-width="1.1"/>
<line x1="502.00" y1="327.50" x2="502.00" y2="266.20" stroke="#7a7a7a" stroke-width="1.5"/>
<line x1="500.20" y1="325.50" x2="502.00" y2="325.50" stroke="#222222" stroke-width="0.9"/>
<text x="496.40" y="327.90" font-size="6.7" text-anchor="end" fill="#1a1a1a" stroke="#1a1a1a" stroke-width="0.1" >0</text>
<line x1="500.20" y1="313.64" x2="502.00" y2="313.64" stroke="#222222" stroke-width="0.9"/>
<text x="496.40" y="316.04" font-size="6.7" text-anchor="end" fill="#1a1a1a" stroke="#1a1a1a" stroke-width="0.1" >20</text>
<line x1="500.20" y1="301.78" x2="502.00" y2="301.78" stroke="#222222" stroke-width="0.9"/>
<text x="496.40" y="304.18" font-size="6.7" text-anchor="end" fill="#1a1a1a" stroke="#1a1a1a" stroke-width="0.1" >40</text>
<line x1="500.20" y1="289.92" x2="502.00" y2="289.92" stroke="#222222" stroke-width="0.9"/>
<text x="496.40" y="292.32" font-size="6.7" text-anchor="end" fill="#1a1a1a" stroke="#1a1a1a" stroke-width="0.1" >60</text>
<line x1="500.20" y1="278.06" x2="502.00" y2="278.06" stroke="#222222" stroke-width="0.9"/>
<text x="496.40" y="280.46" font-size="6.7" text-anchor="end" fill="#1a1a1a" stroke="#1a1a1a" stroke-width="0.1" >80</text>
<line x1="500.20" y1="266.20" x2="502.00" y2="266.20" stroke="#222222" stroke-width="0.9"/>
<text x="496.40" y="268.60" font-size="6.7" text-anchor="end" fill="#1a1a1a" stroke="#1a1a1a" stroke-width="0.1" >100</text>
<line x1="502.00" y1="325.50" x2="502.00" y2="327.70" stroke="#222222" stroke-width="0.9"/>
<text x="502.00" y="335.90" font-size="6.7" text-anchor="middle" fill="#1a1a1a" stroke="#1a1a1a" stroke-width="0.1" >0</text>
<line x1="519.90" y1="325.50" x2="519.90" y2="327.70" stroke="#222222" stroke-width="0.9"/>
<text x="519.90" y="335.90" font-size="6.7" text-anchor="middle" fill="#1a1a1a" stroke="#1a1a1a" stroke-width="0.1" >2</text>
<line x1="537.80" y1="325.50" x2="537.80" y2="327.70" stroke="#222222" stroke-width="0.9"/>
<text x="537.80" y="335.90" font-size="6.7" text-anchor="middle" fill="#1a1a1a" stroke="#1a1a1a" stroke-width="0.1" >4</text>
<line x1="555.70" y1="325.50" x2="555.70" y2="327.70" stroke="#222222" stroke-width="0.9"/>
<text x="555.70" y="335.90" font-size="6.7" text-anchor="middle" fill="#1a1a1a" stroke="#1a1a1a" stroke-width="0.1" >6</text>
<line x1="573.60" y1="325.50" x2="573.60" y2="327.70" stroke="#222222" stroke-width="0.9"/>
<text x="573.60" y="335.90" font-size="6.7" text-anchor="middle" fill="#1a1a1a" stroke="#1a1a1a" stroke-width="0.1" >8</text>
<text x="537.80" y="343.10" font-size="6.7" text-anchor="middle" fill="#1a1a1a" stroke="#1a1a1a" stroke-width="0.1" >Time (h)</text>
<text x="0" y="0" font-size="6.7" text-anchor="middle" fill="#1a1a1a" stroke="#1a1a1a" stroke-width="0.1" transform="translate(485.80,294.55) rotate(-90)">Alive (%)</text>
<polyline points="502.00,266.20 528.85,266.20 537.80,269.17 546.75,310.08 555.70,324.91 564.65,325.50" fill="none" stroke="#111111" stroke-width="1.3" stroke-linejoin="round"/>
<circle cx="502.00" cy="266.20" r="1.9" fill="#111111"/>
<circle cx="528.85" cy="266.20" r="1.9" fill="#111111"/>
<circle cx="537.80" cy="269.17" r="1.9" fill="#111111"/>
<circle cx="546.75" cy="310.08" r="1.9" fill="#111111"/>
<circle cx="555.70" cy="324.91" r="1.9" fill="#111111"/>
<circle cx="564.65" cy="325.50" r="1.9" fill="#111111"/>
<polyline points="502.00,266.20 528.85,266.20 537.80,266.20 546.75,279.84 555.70,313.64 564.65,325.50 573.60,325.50" fill="none" stroke="#2e3192" stroke-width="1.15" stroke-linejoin="round"/>
<circle cx="502.00" cy="266.20" r="1.9" fill="#2e3192"/>
<circle cx="528.85" cy="266.20" r="1.9" fill="#2e3192"/>
<circle cx="537.80" cy="266.20" r="1.9" fill="#2e3192"/>
<circle cx="546.75" cy="279.84" r="1.9" fill="#2e3192"/>
<circle cx="555.70" cy="313.64" r="1.9" fill="#2e3192"/>
<circle cx="564.65" cy="325.50" r="1.9" fill="#2e3192"/>
<circle cx="573.60" cy="325.50" r="1.9" fill="#2e3192"/>
<text x="506.20" y="311.80" font-size="7.9" text-anchor="start" fill="#222" stroke="#222" stroke-width="0.1" >P0</text>
<text x="506.20" y="321.62" font-size="6.6" text-anchor="start" fill="#b9282f" stroke="#b9282f" stroke-width="0.1" ><tspan font-style="italic">P</tspan> &lt; 0.0001</text>
<line x1="606.50" y1="325.50" x2="680.10" y2="325.50" stroke="#222222" stroke-width="1.1"/>
<line x1="608.50" y1="327.50" x2="608.50" y2="266.20" stroke="#222222" stroke-width="1.0"/>
<line x1="606.70" y1="325.50" x2="608.50" y2="325.50" stroke="#222222" stroke-width="0.9"/>
<text x="602.90" y="327.90" font-size="6.7" text-anchor="end" fill="#1a1a1a" stroke="#1a1a1a" stroke-width="0.1" >0</text>
<line x1="606.70" y1="313.64" x2="608.50" y2="313.64" stroke="#222222" stroke-width="0.9"/>
<text x="602.90" y="316.04" font-size="6.7" text-anchor="end" fill="#1a1a1a" stroke="#1a1a1a" stroke-width="0.1" >20</text>
<line x1="606.70" y1="301.78" x2="608.50" y2="301.78" stroke="#222222" stroke-width="0.9"/>
<text x="602.90" y="304.18" font-size="6.7" text-anchor="end" fill="#1a1a1a" stroke="#1a1a1a" stroke-width="0.1" >40</text>
<line x1="606.70" y1="289.92" x2="608.50" y2="289.92" stroke="#222222" stroke-width="0.9"/>
<text x="602.90" y="292.32" font-size="6.7" text-anchor="end" fill="#1a1a1a" stroke="#1a1a1a" stroke-width="0.1" >60</text>
<line x1="606.70" y1="278.06" x2="608.50" y2="278.06" stroke="#222222" stroke-width="0.9"/>
<text x="602.90" y="280.46" font-size="6.7" text-anchor="end" fill="#1a1a1a" stroke="#1a1a1a" stroke-width="0.1" >80</text>
<line x1="606.70" y1="266.20" x2="608.50" y2="266.20" stroke="#222222" stroke-width="0.9"/>
<text x="602.90" y="268.60" font-size="6.7" text-anchor="end" fill="#1a1a1a" stroke="#1a1a1a" stroke-width="0.1" >100</text>
<line x1="608.50" y1="325.50" x2="608.50" y2="327.70" stroke="#222222" stroke-width="0.9"/>
<text x="608.50" y="335.90" font-size="6.7" text-anchor="middle" fill="#1a1a1a" stroke="#1a1a1a" stroke-width="0.1" >0</text>
<line x1="626.40" y1="325.50" x2="626.40" y2="327.70" stroke="#222222" stroke-width="0.9"/>
<text x="626.40" y="335.90" font-size="6.7" text-anchor="middle" fill="#1a1a1a" stroke="#1a1a1a" stroke-width="0.1" >2</text>
<line x1="644.30" y1="325.50" x2="644.30" y2="327.70" stroke="#222222" stroke-width="0.9"/>
<text x="644.30" y="335.90" font-size="6.7" text-anchor="middle" fill="#1a1a1a" stroke="#1a1a1a" stroke-width="0.1" >4</text>
<line x1="662.20" y1="325.50" x2="662.20" y2="327.70" stroke="#222222" stroke-width="0.9"/>
<text x="662.20" y="335.90" font-size="6.7" text-anchor="middle" fill="#1a1a1a" stroke="#1a1a1a" stroke-width="0.1" >6</text>
<line x1="680.10" y1="325.50" x2="680.10" y2="327.70" stroke="#222222" stroke-width="0.9"/>
<text x="680.10" y="335.90" font-size="6.7" text-anchor="middle" fill="#1a1a1a" stroke="#1a1a1a" stroke-width="0.1" >8</text>
<text x="644.30" y="343.10" font-size="6.7" text-anchor="middle" fill="#1a1a1a" stroke="#1a1a1a" stroke-width="0.1" >Time (h)</text>
<text x="0" y="0" font-size="6.7" text-anchor="middle" fill="#1a1a1a" stroke="#1a1a1a" stroke-width="0.1" transform="translate(592.30,294.55) rotate(-90)">Alive (%)</text>
<polyline points="608.50,266.20 635.35,266.20 644.30,266.20 653.25,275.10 662.20,314.23 671.15,325.50" fill="none" stroke="#111111" stroke-width="1.3" stroke-linejoin="round"/>
<circle cx="608.50" cy="266.20" r="1.9" fill="#111111"/>
<circle cx="635.35" cy="266.20" r="1.9" fill="#111111"/>
<circle cx="644.30" cy="266.20" r="1.9" fill="#111111"/>
<circle cx="653.25" cy="275.10" r="1.9" fill="#111111"/>
<circle cx="662.20" cy="314.23" r="1.9" fill="#111111"/>
<circle cx="671.15" cy="325.50" r="1.9" fill="#111111"/>
<polyline points="608.50,266.20 635.35,266.20 644.30,266.20 653.25,266.20 662.20,286.36 671.15,315.42 680.10,324.91" fill="none" stroke="#2e3192" stroke-width="1.15" stroke-linejoin="round"/>
<circle cx="608.50" cy="266.20" r="1.9" fill="#2e3192"/>
<circle cx="635.35" cy="266.20" r="1.9" fill="#2e3192"/>
<circle cx="644.30" cy="266.20" r="1.9" fill="#2e3192"/>
<circle cx="653.25" cy="266.20" r="1.9" fill="#2e3192"/>
<circle cx="662.20" cy="286.36" r="1.9" fill="#2e3192"/>
<circle cx="671.15" cy="315.42" r="1.9" fill="#2e3192"/>
<circle cx="680.10" cy="324.91" r="1.9" fill="#2e3192"/>
<text x="612.70" y="311.80" font-size="7.9" text-anchor="start" fill="#222" stroke="#222" stroke-width="0.1" >P0</text>
<text x="612.70" y="321.62" font-size="6.6" text-anchor="start" fill="#b9282f" stroke="#b9282f" stroke-width="0.1" ><tspan font-style="italic">P</tspan> &lt; 0.0001</text>
<line x1="393.50" y1="452.50" x2="467.10" y2="452.50" stroke="#222222" stroke-width="1.1"/>
<line x1="395.50" y1="454.50" x2="395.50" y2="392.60" stroke="#222222" stroke-width="1.0"/>
<line x1="393.70" y1="452.50" x2="395.50" y2="452.50" stroke="#222222" stroke-width="0.9"/>
<text x="389.90" y="454.90" font-size="6.7" text-anchor="end" fill="#1a1a1a" stroke="#1a1a1a" stroke-width="0.1" >0</text>
<line x1="393.70" y1="440.52" x2="395.50" y2="440.52" stroke="#222222" stroke-width="0.9"/>
<text x="389.90" y="442.92" font-size="6.7" text-anchor="end" fill="#1a1a1a" stroke="#1a1a1a" stroke-width="0.1" >20</text>
<line x1="393.70" y1="428.54" x2="395.50" y2="428.54" stroke="#222222" stroke-width="0.9"/>
<text x="389.90" y="430.94" font-size="6.7" text-anchor="end" fill="#1a1a1a" stroke="#1a1a1a" stroke-width="0.1" >40</text>
<line x1="393.70" y1="416.56" x2="395.50" y2="416.56" stroke="#222222" stroke-width="0.9"/>
<text x="389.90" y="418.96" font-size="6.7" text-anchor="end" fill="#1a1a1a" stroke="#1a1a1a" stroke-width="0.1" >60</text>
<line x1="393.70" y1="404.58" x2="395.50" y2="404.58" stroke="#222222" stroke-width="0.9"/>
<text x="389.90" y="406.98" font-size="6.7" text-anchor="end" fill="#1a1a1a" stroke="#1a1a1a" stroke-width="0.1" >80</text>
<line x1="393.70" y1="392.60" x2="395.50" y2="392.60" stroke="#222222" stroke-width="0.9"/>
<text x="389.90" y="395.00" font-size="6.7" text-anchor="end" fill="#1a1a1a" stroke="#1a1a1a" stroke-width="0.1" >100</text>
<line x1="395.50" y1="452.50" x2="395.50" y2="454.70" stroke="#222222" stroke-width="0.9"/>
<text x="395.50" y="462.90" font-size="6.7" text-anchor="middle" fill="#1a1a1a" stroke="#1a1a1a" stroke-width="0.1" >0</text>
<line x1="413.40" y1="452.50" x2="413.40" y2="454.70" stroke="#222222" stroke-width="0.9"/>
<text x="413.40" y="462.90" font-size="6.7" text-anchor="middle" fill="#1a1a1a" stroke="#1a1a1a" stroke-width="0.1" >2</text>
<line x1="431.30" y1="452.50" x2="431.30" y2="454.70" stroke="#222222" stroke-width="0.9"/>
<text x="431.30" y="462.90" font-size="6.7" text-anchor="middle" fill="#1a1a1a" stroke="#1a1a1a" stroke-width="0.1" >4</text>
<line x1="449.20" y1="452.50" x2="449.20" y2="454.70" stroke="#222222" stroke-width="0.9"/>
<text x="449.20" y="462.90" font-size="6.7" text-anchor="middle" fill="#1a1a1a" stroke="#1a1a1a" stroke-width="0.1" >6</text>
<line x1="467.10" y1="452.50" x2="467.10" y2="454.70" stroke="#222222" stroke-width="0.9"/>
<text x="467.10" y="462.90" font-size="6.7" text-anchor="middle" fill="#1a1a1a" stroke="#1a1a1a" stroke-width="0.1" >8</text>
<text x="431.30" y="470.10" font-size="6.7" text-anchor="middle" fill="#1a1a1a" stroke="#1a1a1a" stroke-width="0.1" >Time (h)</text>
<text x="0" y="0" font-size="6.7" text-anchor="middle" fill="#1a1a1a" stroke="#1a1a1a" stroke-width="0.1" transform="translate(379.30,421.25) rotate(-90)">Alive (%)</text>
<polyline points="395.50,392.60 422.35,392.60 431.30,392.60 440.25,403.38 449.20,441.72 458.15,452.50" fill="none" stroke="#111111" stroke-width="1.3" stroke-linejoin="round"/>
<circle cx="395.50" cy="392.60" r="1.9" fill="#111111"/>
<circle cx="422.35" cy="392.60" r="1.9" fill="#111111"/>
<circle cx="431.30" cy="392.60" r="1.9" fill="#111111"/>
<circle cx="440.25" cy="403.38" r="1.9" fill="#111111"/>
<circle cx="449.20" cy="441.72" r="1.9" fill="#111111"/>
<circle cx="458.15" cy="452.50" r="1.9" fill="#111111"/>
<polyline points="395.50,392.60 422.35,392.60 431.30,392.60 440.25,392.60 449.20,411.17 458.15,448.31 467.10,452.50" fill="none" stroke="#2e3192" stroke-width="1.15" stroke-linejoin="round"/>
<circle cx="395.50" cy="392.60" r="1.9" fill="#2e3192"/>
<circle cx="422.35" cy="392.60" r="1.9" fill="#2e3192"/>
<circle cx="431.30" cy="392.60" r="1.9" fill="#2e3192"/>
<circle cx="440.25" cy="392.60" r="1.9" fill="#2e3192"/>
<circle cx="449.20" cy="411.17" r="1.9" fill="#2e3192"/>
<circle cx="458.15" cy="448.31" r="1.9" fill="#2e3192"/>
<circle cx="467.10" cy="452.50" r="1.9" fill="#2e3192"/>
<text x="398.10" y="438.80" font-size="7.9" text-anchor="start" fill="#222" stroke="#222" stroke-width="0.1" >F1</text>
<text x="398.10" y="448.62" font-size="6.6" text-anchor="start" fill="#b9282f" stroke="#b9282f" stroke-width="0.1" ><tspan font-style="italic">P</tspan> &lt; 0.0001</text>
<line x1="499.80" y1="452.50" x2="573.40" y2="452.50" stroke="#222222" stroke-width="1.1"/>
<line x1="501.80" y1="454.50" x2="501.80" y2="392.60" stroke="#7a7a7a" stroke-width="1.5"/>
<line x1="500.00" y1="452.50" x2="501.80" y2="452.50" stroke="#222222" stroke-width="0.9"/>
<text x="496.20" y="454.90" font-size="6.7" text-anchor="end" fill="#1a1a1a" stroke="#1a1a1a" stroke-width="0.1" >0</text>
<line x1="500.00" y1="440.52" x2="501.80" y2="440.52" stroke="#222222" stroke-width="0.9"/>
<text x="496.20" y="442.92" font-size="6.7" text-anchor="end" fill="#1a1a1a" stroke="#1a1a1a" stroke-width="0.1" >20</text>
<line x1="500.00" y1="428.54" x2="501.80" y2="428.54" stroke="#222222" stroke-width="0.9"/>
<text x="496.20" y="430.94" font-size="6.7" text-anchor="end" fill="#1a1a1a" stroke="#1a1a1a" stroke-width="0.1" >40</text>
<line x1="500.00" y1="416.56" x2="501.80" y2="416.56" stroke="#222222" stroke-width="0.9"/>
<text x="496.20" y="418.96" font-size="6.7" text-anchor="end" fill="#1a1a1a" stroke="#1a1a1a" stroke-width="0.1" >60</text>
<line x1="500.00" y1="404.58" x2="501.80" y2="404.58" stroke="#222222" stroke-width="0.9"/>
<text x="496.20" y="406.98" font-size="6.7" text-anchor="end" fill="#1a1a1a" stroke="#1a1a1a" stroke-width="0.1" >80</text>
<line x1="500.00" y1="392.60" x2="501.80" y2="392.60" stroke="#222222" stroke-width="0.9"/>
<text x="496.20" y="395.00" font-size="6.7" text-anchor="end" fill="#1a1a1a" stroke="#1a1a1a" stroke-width="0.1" >100</text>
<line x1="501.80" y1="452.50" x2="501.80" y2="454.70" stroke="#222222" stroke-width="0.9"/>
<text x="501.80" y="462.90" font-size="6.7" text-anchor="middle" fill="#1a1a1a" stroke="#1a1a1a" stroke-width="0.1" >0</text>
<line x1="519.70" y1="452.50" x2="519.70" y2="454.70" stroke="#222222" stroke-width="0.9"/>
<text x="519.70" y="462.90" font-size="6.7" text-anchor="middle" fill="#1a1a1a" stroke="#1a1a1a" stroke-width="0.1" >2</text>
<line x1="537.60" y1="452.50" x2="537.60" y2="454.70" stroke="#222222" stroke-width="0.9"/>
<text x="537.60" y="462.90" font-size="6.7" text-anchor="middle" fill="#1a1a1a" stroke="#1a1a1a" stroke-width="0.1" >4</text>
<line x1="555.50" y1="452.50" x2="555.50" y2="454.70" stroke="#222222" stroke-width="0.9"/>
<text x="555.50" y="462.90" font-size="6.7" text-anchor="middle" fill="#1a1a1a" stroke="#1a1a1a" stroke-width="0.1" >6</text>
<line x1="573.40" y1="452.50" x2="573.40" y2="454.70" stroke="#222222" stroke-width="0.9"/>
<text x="573.40" y="462.90" font-size="6.7" text-anchor="middle" fill="#1a1a1a" stroke="#1a1a1a" stroke-width="0.1" >8</text>
<text x="537.60" y="470.10" font-size="6.7" text-anchor="middle" fill="#1a1a1a" stroke="#1a1a1a" stroke-width="0.1" >Time (h)</text>
<text x="0" y="0" font-size="6.7" text-anchor="middle" fill="#1a1a1a" stroke="#1a1a1a" stroke-width="0.1" transform="translate(485.60,421.25) rotate(-90)">Alive (%)</text>
<polyline points="501.80,392.60 528.65,392.60 537.60,417.16 546.55,448.91 555.50,452.50" fill="none" stroke="#111111" stroke-width="1.3" stroke-linejoin="round"/>
<circle cx="501.80" cy="392.60" r="1.9" fill="#111111"/>
<circle cx="528.65" cy="392.60" r="1.9" fill="#111111"/>
<circle cx="537.60" cy="417.16" r="1.9" fill="#111111"/>
<circle cx="546.55" cy="448.91" r="1.9" fill="#111111"/>
<circle cx="555.50" cy="452.50" r="1.9" fill="#111111"/>
<polyline points="501.80,392.60 528.65,392.60 537.60,411.17 546.55,442.32 555.50,451.30 564.45,452.50 573.40,452.50" fill="none" stroke="#2e3192" stroke-width="1.15" stroke-linejoin="round"/>
<circle cx="501.80" cy="392.60" r="1.9" fill="#2e3192"/>
<circle cx="528.65" cy="392.60" r="1.9" fill="#2e3192"/>
<circle cx="537.60" cy="411.17" r="1.9" fill="#2e3192"/>
<circle cx="546.55" cy="442.32" r="1.9" fill="#2e3192"/>
<circle cx="555.50" cy="451.30" r="1.9" fill="#2e3192"/>
<circle cx="564.45" cy="452.50" r="1.9" fill="#2e3192"/>
<circle cx="573.40" cy="452.50" r="1.9" fill="#2e3192"/>
<text x="506.00" y="438.80" font-size="7.9" text-anchor="start" fill="#222" stroke="#222" stroke-width="0.1" >F1</text>
<text x="506.00" y="448.62" font-size="6.6" text-anchor="start" fill="#222" stroke="#222" stroke-width="0.1" ><tspan font-style="italic">P</tspan> = 0.2416</text>
<line x1="606.50" y1="452.50" x2="680.10" y2="452.50" stroke="#222222" stroke-width="1.1"/>
<line x1="608.50" y1="454.50" x2="608.50" y2="392.60" stroke="#222222" stroke-width="1.0"/>
<line x1="606.70" y1="452.50" x2="608.50" y2="452.50" stroke="#222222" stroke-width="0.9"/>
<text x="602.90" y="454.90" font-size="6.7" text-anchor="end" fill="#1a1a1a" stroke="#1a1a1a" stroke-width="0.1" >0</text>
<line x1="606.70" y1="440.52" x2="608.50" y2="440.52" stroke="#222222" stroke-width="0.9"/>
<text x="602.90" y="442.92" font-size="6.7" text-anchor="end" fill="#1a1a1a" stroke="#1a1a1a" stroke-width="0.1" >20</text>
<line x1="606.70" y1="428.54" x2="608.50" y2="428.54" stroke="#222222" stroke-width="0.9"/>
<text x="602.90" y="430.94" font-size="6.7" text-anchor="end" fill="#1a1a1a" stroke="#1a1a1a" stroke-width="0.1" >40</text>
<line x1="606.70" y1="416.56" x2="608.50" y2="416.56" stroke="#222222" stroke-width="0.9"/>
<text x="602.90" y="418.96" font-size="6.7" text-anchor="end" fill="#1a1a1a" stroke="#1a1a1a" stroke-width="0.1" >60</text>
<line x1="606.70" y1="404.58" x2="608.50" y2="404.58" stroke="#222222" stroke-width="0.9"/>
<text x="602.90" y="406.98" font-size="6.7" text-anchor="end" fill="#1a1a1a" stroke="#1a1a1a" stroke-width="0.1" >80</text>
<line x1="606.70" y1="392.60" x2="608.50" y2="392.60" stroke="#222222" stroke-width="0.9"/>
<text x="602.90" y="395.00" font-size="6.7" text-anchor="end" fill="#1a1a1a" stroke="#1a1a1a" stroke-width="0.1" >100</text>
<line x1="608.50" y1="452.50" x2="608.50" y2="454.70" stroke="#222222" stroke-width="0.9"/>
<text x="608.50" y="462.90" font-size="6.7" text-anchor="middle" fill="#1a1a1a" stroke="#1a1a1a" stroke-width="0.1" >0</text>
<line x1="626.40" y1="452.50" x2="626.40" y2="454.70" stroke="#222222" stroke-width="0.9"/>
<text x="626.40" y="462.90" font-size="6.7" text-anchor="middle" fill="#1a1a1a" stroke="#1a1a1a" stroke-width="0.1" >2</text>
<line x1="644.30" y1="452.50" x2="644.30" y2="454.70" stroke="#222222" stroke-width="0.9"/>
<text x="644.30" y="462.90" font-size="6.7" text-anchor="middle" fill="#1a1a1a" stroke="#1a1a1a" stroke-width="0.1" >4</text>
<line x1="662.20" y1="452.50" x2="662.20" y2="454.70" stroke="#222222" stroke-width="0.9"/>
<text x="662.20" y="462.90" font-size="6.7" text-anchor="middle" fill="#1a1a1a" stroke="#1a1a1a" stroke-width="0.1" >6</text>
<line x1="680.10" y1="452.50" x2="680.10" y2="454.70" stroke="#222222" stroke-width="0.9"/>
<text x="680.10" y="462.90" font-size="6.7" text-anchor="middle" fill="#1a1a1a" stroke="#1a1a1a" stroke-width="0.1" >8</text>
<text x="644.30" y="470.10" font-size="6.7" text-anchor="middle" fill="#1a1a1a" stroke="#1a1a1a" stroke-width="0.1" >Time (h)</text>
<text x="0" y="0" font-size="6.7" text-anchor="middle" fill="#1a1a1a" stroke="#1a1a1a" stroke-width="0.1" transform="translate(592.30,421.25) rotate(-90)">Alive (%)</text>
<polyline points="608.50,392.60 635.35,392.60 644.30,392.60 653.25,405.18 662.20,435.13 671.15,450.70 680.10,452.50" fill="none" stroke="#111111" stroke-width="1.3" stroke-linejoin="round"/>
<circle cx="608.50" cy="392.60" r="1.9" fill="#111111"/>
<circle cx="635.35" cy="392.60" r="1.9" fill="#111111"/>
<circle cx="644.30" cy="392.60" r="1.9" fill="#111111"/>
<circle cx="653.25" cy="405.18" r="1.9" fill="#111111"/>
<circle cx="662.20" cy="435.13" r="1.9" fill="#111111"/>
<circle cx="671.15" cy="450.70" r="1.9" fill="#111111"/>
<circle cx="680.10" cy="452.50" r="1.9" fill="#111111"/>
<polyline points="608.50,392.60 635.35,392.60 644.30,392.60 653.25,399.79 662.20,429.74 671.15,442.32 680.10,452.50" fill="none" stroke="#2e3192" stroke-width="1.15" stroke-linejoin="round"/>
<circle cx="608.50" cy="392.60" r="1.9" fill="#2e3192"/>
<circle cx="635.35" cy="392.60" r="1.9" fill="#2e3192"/>
<circle cx="644.30" cy="392.60" r="1.9" fill="#2e3192"/>
<circle cx="653.25" cy="399.79" r="1.9" fill="#2e3192"/>
<circle cx="662.20" cy="429.74" r="1.9" fill="#2e3192"/>
<circle cx="671.15" cy="442.32" r="1.9" fill="#2e3192"/>
<circle cx="680.10" cy="452.50" r="1.9" fill="#2e3192"/>
<text x="612.70" y="438.80" font-size="7.9" text-anchor="start" fill="#222" stroke="#222" stroke-width="0.1" >F1</text>
<text x="612.70" y="448.62" font-size="6.6" text-anchor="start" fill="#222" stroke="#222" stroke-width="0.1" ><tspan font-style="italic">P</tspan> = 0.1228</text>
<line x1="390.40" y1="351.00" x2="400.20" y2="351.00" stroke="#111111" stroke-width="1.2"/>
<circle cx="395.30" cy="351.00" r="1.5" fill="#111111"/>
<text x="403.80" y="353.80" font-size="7.7" text-anchor="start" fill="#1a1a1a" stroke="#1a1a1a" stroke-width="0.1" >WT</text>
<line x1="390.40" y1="359.60" x2="400.20" y2="359.60" stroke="#2e3192" stroke-width="1.2"/>
<circle cx="395.30" cy="359.60" r="1.5" fill="#2e3192"/>
<text x="403.80" y="362.40" font-size="7.7" text-anchor="start" fill="#1a1a1a" stroke="#1a1a1a" stroke-width="0.1" >WT osm</text>
<line x1="497.10" y1="351.20" x2="506.90" y2="351.20" stroke="#111111" stroke-width="1.2"/>
<circle cx="502.00" cy="351.20" r="1.5" fill="#111111"/>
<text x="510.50" y="354.00" font-size="7.7" text-anchor="start" fill="#1a1a1a" stroke="#1a1a1a" stroke-width="0.1" ><tspan font-style="italic">gly-19p</tspan>::Cas9</text>
<text x="510.50" y="362.30" font-size="7.7" text-anchor="start" fill="#1a1a1a" stroke="#1a1a1a" stroke-width="0.1" >sgRNA <tspan font-style="italic">dcr-1</tspan></text>
<line x1="497.10" y1="370.20" x2="506.90" y2="370.20" stroke="#2e3192" stroke-width="1.2"/>
<circle cx="502.00" cy="370.20" r="1.5" fill="#2e3192"/>
<text x="510.50" y="373.00" font-size="7.7" text-anchor="start" fill="#1a1a1a" stroke="#1a1a1a" stroke-width="0.1" ><tspan font-style="italic">gly-19p</tspan>::Cas9</text>
<text x="510.50" y="381.30" font-size="7.7" text-anchor="start" fill="#1a1a1a" stroke="#1a1a1a" stroke-width="0.1" >sgRNA <tspan font-style="italic">dcr-1</tspan> osm</text>
<line x1="603.90" y1="351.20" x2="613.70" y2="351.20" stroke="#111111" stroke-width="1.2"/>
<circle cx="608.80" cy="351.20" r="1.5" fill="#111111"/>
<text x="617.30" y="354.00" font-size="7.7" text-anchor="start" fill="#1a1a1a" stroke="#1a1a1a" stroke-width="0.1" ><tspan font-style="italic">gly-19p</tspan>::Cas9</text>
<text x="617.30" y="362.30" font-size="7.7" text-anchor="start" fill="#1a1a1a" stroke="#1a1a1a" stroke-width="0.1" >sgRNA <tspan font-style="italic">drsh-1</tspan></text>
<line x1="603.90" y1="370.20" x2="613.70" y2="370.20" stroke="#2e3192" stroke-width="1.2"/>
<circle cx="608.80" cy="370.20" r="1.5" fill="#2e3192"/>
<text x="617.30" y="373.00" font-size="7.7" text-anchor="start" fill="#1a1a1a" stroke="#1a1a1a" stroke-width="0.1" ><tspan font-style="italic">gly-19p</tspan>::Cas9</text>
<text x="617.30" y="381.30" font-size="7.7" text-anchor="start" fill="#1a1a1a" stroke="#1a1a1a" stroke-width="0.1" >sgRNA <tspan font-style="italic">drsh-1</tspan> osm</text>
<line x1="390.20" y1="477.30" x2="400.00" y2="477.30" stroke="#111111" stroke-width="1.2"/>
<circle cx="395.10" cy="477.30" r="1.5" fill="#111111"/>
<text x="403.60" y="480.10" font-size="7.7" text-anchor="start" fill="#1a1a1a" stroke="#1a1a1a" stroke-width="0.1" >WT</text>
<line x1="390.20" y1="486.20" x2="400.00" y2="486.20" stroke="#2e3192" stroke-width="1.2"/>
<circle cx="395.10" cy="486.20" r="1.5" fill="#2e3192"/>
<text x="403.60" y="489.00" font-size="7.7" text-anchor="start" fill="#1a1a1a" stroke="#1a1a1a" stroke-width="0.1" >WT osm</text>
<line x1="496.70" y1="477.30" x2="506.50" y2="477.30" stroke="#111111" stroke-width="1.2"/>
<circle cx="501.60" cy="477.30" r="1.5" fill="#111111"/>
<text x="510.10" y="480.10" font-size="7.7" text-anchor="start" fill="#1a1a1a" stroke="#1a1a1a" stroke-width="0.1" >No array</text>
<line x1="496.70" y1="486.20" x2="506.50" y2="486.20" stroke="#2e3192" stroke-width="1.2"/>
<circle cx="501.60" cy="486.20" r="1.5" fill="#2e3192"/>
<text x="510.10" y="489.00" font-size="7.7" text-anchor="start" fill="#1a1a1a" stroke="#1a1a1a" stroke-width="0.1" >No array osm</text>
<line x1="604.00" y1="477.30" x2="613.80" y2="477.30" stroke="#111111" stroke-width="1.2"/>
<circle cx="608.90" cy="477.30" r="1.5" fill="#111111"/>
<text x="617.40" y="480.10" font-size="7.7" text-anchor="start" fill="#1a1a1a" stroke="#1a1a1a" stroke-width="0.1" >No array</text>
<line x1="604.00" y1="486.20" x2="613.80" y2="486.20" stroke="#2e3192" stroke-width="1.2"/>
<circle cx="608.90" cy="486.20" r="1.5" fill="#2e3192"/>
<text x="617.40" y="489.00" font-size="7.7" text-anchor="start" fill="#1a1a1a" stroke="#1a1a1a" stroke-width="0.1" >No array osm</text>
<text x="-0.70" y="368.00" font-size="18.5" text-anchor="start" fill="#111" stroke="#111" stroke-width="0.1" >e</text>
<text x="17.00" y="374.10" font-size="9.45" text-anchor="start" fill="#4fa23c" stroke="#4fa23c" stroke-width="0.1" >Germline-specific RNAi (DCL569)</text>
<line x1="34.50" y1="448.50" x2="108.32" y2="448.50" stroke="#4a4a4a" stroke-width="1.2"/>
<line x1="36.50" y1="450.50" x2="36.50" y2="386.60" stroke="#4a4a4a" stroke-width="1.1"/>
<line x1="34.70" y1="448.50" x2="36.50" y2="448.50" stroke="#222222" stroke-width="0.9"/>
<text x="30.90" y="450.90" font-size="6.7" text-anchor="end" fill="#1a1a1a" stroke="#1a1a1a" stroke-width="0.1" >0</text>
<line x1="34.70" y1="436.12" x2="36.50" y2="436.12" stroke="#222222" stroke-width="0.9"/>
<text x="30.90" y="438.52" font-size="6.7" text-anchor="end" fill="#1a1a1a" stroke="#1a1a1a" stroke-width="0.1" >20</text>
<line x1="34.70" y1="423.74" x2="36.50" y2="423.74" stroke="#222222" stroke-width="0.9"/>
<text x="30.90" y="426.14" font-size="6.7" text-anchor="end" fill="#1a1a1a" stroke="#1a1a1a" stroke-width="0.1" >40</text>
<line x1="34.70" y1="411.36" x2="36.50" y2="411.36" stroke="#222222" stroke-width="0.9"/>
<text x="30.90" y="413.76" font-size="6.7" text-anchor="end" fill="#1a1a1a" stroke="#1a1a1a" stroke-width="0.1" >60</text>
<line x1="34.70" y1="398.98" x2="36.50" y2="398.98" stroke="#222222" stroke-width="0.9"/>
<text x="30.90" y="401.38" font-size="6.7" text-anchor="end" fill="#1a1a1a" stroke="#1a1a1a" stroke-width="0.1" >80</text>
<line x1="34.70" y1="386.60" x2="36.50" y2="386.60" stroke="#222222" stroke-width="0.9"/>
<text x="30.90" y="389.00" font-size="6.7" text-anchor="end" fill="#1a1a1a" stroke="#1a1a1a" stroke-width="0.1" >100</text>
<line x1="36.50" y1="448.50" x2="36.50" y2="450.70" stroke="#222222" stroke-width="0.9"/>
<text x="36.50" y="458.90" font-size="6.7" text-anchor="middle" fill="#1a1a1a" stroke="#1a1a1a" stroke-width="0.1" >0</text>
<line x1="52.46" y1="448.50" x2="52.46" y2="450.70" stroke="#222222" stroke-width="0.9"/>
<text x="52.46" y="458.90" font-size="6.7" text-anchor="middle" fill="#1a1a1a" stroke="#1a1a1a" stroke-width="0.1" >2</text>
<line x1="68.42" y1="448.50" x2="68.42" y2="450.70" stroke="#222222" stroke-width="0.9"/>
<text x="68.42" y="458.90" font-size="6.7" text-anchor="middle" fill="#1a1a1a" stroke="#1a1a1a" stroke-width="0.1" >4</text>
<line x1="84.38" y1="448.50" x2="84.38" y2="450.70" stroke="#222222" stroke-width="0.9"/>
<text x="84.38" y="458.90" font-size="6.7" text-anchor="middle" fill="#1a1a1a" stroke="#1a1a1a" stroke-width="0.1" >6</text>
<line x1="100.34" y1="448.50" x2="100.34" y2="450.70" stroke="#222222" stroke-width="0.9"/>
<text x="100.34" y="458.90" font-size="6.7" text-anchor="middle" fill="#1a1a1a" stroke="#1a1a1a" stroke-width="0.1" >8</text>
<text x="70.41" y="466.80" font-size="6.7" text-anchor="middle" fill="#1a1a1a" stroke="#1a1a1a" stroke-width="0.1" >Time (h)</text>
<text x="0" y="0" font-size="6.7" text-anchor="middle" fill="#1a1a1a" stroke="#1a1a1a" stroke-width="0.1" transform="translate(20.30,416.25) rotate(-90)">Alive (%)</text>
<polyline points="36.50,386.60 60.44,386.60 68.42,386.60 76.40,388.46 84.38,400.22 92.36,434.26 100.34,447.88 108.32,448.50" fill="none" stroke="#111111" stroke-width="1.3" stroke-linejoin="round"/>
<circle cx="36.50" cy="386.60" r="1.9" fill="#111111"/>
<circle cx="60.44" cy="386.60" r="1.9" fill="#111111"/>
<circle cx="68.42" cy="386.60" r="1.9" fill="#111111"/>
<circle cx="76.40" cy="388.46" r="1.9" fill="#111111"/>
<circle cx="84.38" cy="400.22" r="1.9" fill="#111111"/>
<circle cx="92.36" cy="434.26" r="1.9" fill="#111111"/>
<circle cx="100.34" cy="447.88" r="1.9" fill="#111111"/>
<circle cx="108.32" cy="448.50" r="1.9" fill="#111111"/>
<polyline points="36.50,386.60 60.44,386.60 68.42,386.60 76.40,386.60 84.38,389.08 92.36,407.65 100.34,433.64 108.32,447.26" fill="none" stroke="#2e3192" stroke-width="1.15" stroke-linejoin="round" stroke-dasharray="2.8,1.4"/>
<circle cx="36.50" cy="386.60" r="1.9" fill="#2e3192"/>
<circle cx="60.44" cy="386.60" r="1.9" fill="#2e3192"/>
<circle cx="68.42" cy="386.60" r="1.9" fill="#2e3192"/>
<circle cx="76.40" cy="386.60" r="1.9" fill="#2e3192"/>
<circle cx="84.38" cy="389.08" r="1.9" fill="#2e3192"/>
<circle cx="92.36" cy="407.65" r="1.9" fill="#2e3192"/>
<circle cx="100.34" cy="433.64" r="1.9" fill="#2e3192"/>
<circle cx="108.32" cy="447.26" r="1.9" fill="#2e3192"/>
<line x1="36.50" y1="386.60" x2="60.44" y2="386.60" stroke="#bcbcd8" stroke-width="1.3"/>
<line x1="36.50" y1="386.60" x2="60.44" y2="386.60" stroke="#a2a4d6" stroke-width="1.3" stroke-dasharray="2.8,1.4"/>
<line x1="60.44" y1="386.60" x2="68.42" y2="386.60" stroke="#bcbcd8" stroke-width="1.3"/>
<line x1="60.44" y1="386.60" x2="68.42" y2="386.60" stroke="#a2a4d6" stroke-width="1.3" stroke-dasharray="2.8,1.4"/>
<circle cx="36.50" cy="386.60" r="1.9" fill="#2e3192"/>
<circle cx="60.44" cy="386.60" r="1.9" fill="#2e3192"/>
<circle cx="68.42" cy="386.60" r="1.9" fill="#2e3192"/>
<circle cx="76.40" cy="386.60" r="1.9" fill="#2e3192"/>
<circle cx="84.38" cy="389.08" r="1.9" fill="#2e3192"/>
<circle cx="92.36" cy="407.65" r="1.9" fill="#2e3192"/>
<circle cx="100.34" cy="433.64" r="1.9" fill="#2e3192"/>
<circle cx="108.32" cy="447.26" r="1.9" fill="#2e3192"/>
<text x="40.70" y="436.00" font-size="7.9" text-anchor="start" fill="#222" stroke="#222" stroke-width="0.1" >P0</text>
<text x="40.70" y="444.98" font-size="6.6" text-anchor="start" fill="#b9282f" stroke="#b9282f" stroke-width="0.1" ><tspan font-style="italic">P</tspan> &lt; 0.0001</text>
<line x1="140.50" y1="448.50" x2="214.32" y2="448.50" stroke="#4a4a4a" stroke-width="1.2"/>
<line x1="142.50" y1="450.50" x2="142.50" y2="386.60" stroke="#4a4a4a" stroke-width="1.1"/>
<line x1="140.70" y1="448.50" x2="142.50" y2="448.50" stroke="#222222" stroke-width="0.9"/>
<text x="136.90" y="450.90" font-size="6.7" text-anchor="end" fill="#1a1a1a" stroke="#1a1a1a" stroke-width="0.1" >0</text>
<line x1="140.70" y1="436.12" x2="142.50" y2="436.12" stroke="#222222" stroke-width="0.9"/>
<text x="136.90" y="438.52" font-size="6.7" text-anchor="end" fill="#1a1a1a" stroke="#1a1a1a" stroke-width="0.1" >20</text>
<line x1="140.70" y1="423.74" x2="142.50" y2="423.74" stroke="#222222" stroke-width="0.9"/>
<text x="136.90" y="426.14" font-size="6.7" text-anchor="end" fill="#1a1a1a" stroke="#1a1a1a" stroke-width="0.1" >40</text>
<line x1="140.70" y1="411.36" x2="142.50" y2="411.36" stroke="#222222" stroke-width="0.9"/>
<text x="136.90" y="413.76" font-size="6.7" text-anchor="end" fill="#1a1a1a" stroke="#1a1a1a" stroke-width="0.1" >60</text>
<line x1="140.70" y1="398.98" x2="142.50" y2="398.98" stroke="#222222" stroke-width="0.9"/>
<text x="136.90" y="401.38" font-size="6.7" text-anchor="end" fill="#1a1a1a" stroke="#1a1a1a" stroke-width="0.1" >80</text>
<line x1="140.70" y1="386.60" x2="142.50" y2="386.60" stroke="#222222" stroke-width="0.9"/>
<text x="136.90" y="389.00" font-size="6.7" text-anchor="end" fill="#1a1a1a" stroke="#1a1a1a" stroke-width="0.1" >100</text>
<line x1="142.50" y1="448.50" x2="142.50" y2="450.70" stroke="#222222" stroke-width="0.9"/>
<text x="142.50" y="458.90" font-size="6.7" text-anchor="middle" fill="#1a1a1a" stroke="#1a1a1a" stroke-width="0.1" >0</text>
<line x1="158.46" y1="448.50" x2="158.46" y2="450.70" stroke="#222222" stroke-width="0.9"/>
<text x="158.46" y="458.90" font-size="6.7" text-anchor="middle" fill="#1a1a1a" stroke="#1a1a1a" stroke-width="0.1" >2</text>
<line x1="174.42" y1="448.50" x2="174.42" y2="450.70" stroke="#222222" stroke-width="0.9"/>
<text x="174.42" y="458.90" font-size="6.7" text-anchor="middle" fill="#1a1a1a" stroke="#1a1a1a" stroke-width="0.1" >4</text>
<line x1="190.38" y1="448.50" x2="190.38" y2="450.70" stroke="#222222" stroke-width="0.9"/>
<text x="190.38" y="458.90" font-size="6.7" text-anchor="middle" fill="#1a1a1a" stroke="#1a1a1a" stroke-width="0.1" >6</text>
<line x1="206.34" y1="448.50" x2="206.34" y2="450.70" stroke="#222222" stroke-width="0.9"/>
<text x="206.34" y="458.90" font-size="6.7" text-anchor="middle" fill="#1a1a1a" stroke="#1a1a1a" stroke-width="0.1" >8</text>
<text x="174.42" y="466.80" font-size="6.7" text-anchor="middle" fill="#1a1a1a" stroke="#1a1a1a" stroke-width="0.1" >Time (h)</text>
<text x="0" y="0" font-size="6.7" text-anchor="middle" fill="#1a1a1a" stroke="#1a1a1a" stroke-width="0.1" transform="translate(126.30,416.25) rotate(-90)">Alive (%)</text>
<polyline points="142.50,386.60 166.44,386.60 174.42,386.60 182.40,386.60 190.38,391.55 198.36,431.79 206.34,447.26 214.32,448.50" fill="none" stroke="#111111" stroke-width="1.3" stroke-linejoin="round"/>
<circle cx="142.50" cy="386.60" r="1.9" fill="#111111"/>
<circle cx="166.44" cy="386.60" r="1.9" fill="#111111"/>
<circle cx="174.42" cy="386.60" r="1.9" fill="#111111"/>
<circle cx="182.40" cy="386.60" r="1.9" fill="#111111"/>
<circle cx="190.38" cy="391.55" r="1.9" fill="#111111"/>
<circle cx="198.36" cy="431.79" r="1.9" fill="#111111"/>
<circle cx="206.34" cy="447.26" r="1.9" fill="#111111"/>
<circle cx="214.32" cy="448.50" r="1.9" fill="#111111"/>
<polyline points="142.50,386.60 166.44,386.60 174.42,386.60 182.40,386.60 190.38,386.60 198.36,403.93 206.34,431.17 214.32,448.50" fill="none" stroke="#2e3192" stroke-width="1.15" stroke-linejoin="round" stroke-dasharray="2.8,1.4"/>
<circle cx="142.50" cy="386.60" r="1.9" fill="#2e3192"/>
<circle cx="166.44" cy="386.60" r="1.9" fill="#2e3192"/>
<circle cx="174.42" cy="386.60" r="1.9" fill="#2e3192"/>
<circle cx="182.40" cy="386.60" r="1.9" fill="#2e3192"/>
<circle cx="190.38" cy="386.60" r="1.9" fill="#2e3192"/>
<circle cx="198.36" cy="403.93" r="1.9" fill="#2e3192"/>
<circle cx="206.34" cy="431.17" r="1.9" fill="#2e3192"/>
<circle cx="214.32" cy="448.50" r="1.9" fill="#2e3192"/>
<line x1="142.50" y1="386.60" x2="166.44" y2="386.60" stroke="#bcbcd8" stroke-width="1.3"/>
<line x1="142.50" y1="386.60" x2="166.44" y2="386.60" stroke="#a2a4d6" stroke-width="1.3" stroke-dasharray="2.8,1.4"/>
<line x1="166.44" y1="386.60" x2="174.42" y2="386.60" stroke="#bcbcd8" stroke-width="1.3"/>
<line x1="166.44" y1="386.60" x2="174.42" y2="386.60" stroke="#a2a4d6" stroke-width="1.3" stroke-dasharray="2.8,1.4"/>
<line x1="174.42" y1="386.60" x2="182.40" y2="386.60" stroke="#bcbcd8" stroke-width="1.3"/>
<line x1="174.42" y1="386.60" x2="182.40" y2="386.60" stroke="#a2a4d6" stroke-width="1.3" stroke-dasharray="2.8,1.4"/>
<circle cx="142.50" cy="386.60" r="1.9" fill="#2e3192"/>
<circle cx="166.44" cy="386.60" r="1.9" fill="#2e3192"/>
<circle cx="174.42" cy="386.60" r="1.9" fill="#2e3192"/>
<circle cx="182.40" cy="386.60" r="1.9" fill="#2e3192"/>
<circle cx="190.38" cy="386.60" r="1.9" fill="#2e3192"/>
<circle cx="198.36" cy="403.93" r="1.9" fill="#2e3192"/>
<circle cx="206.34" cy="431.17" r="1.9" fill="#2e3192"/>
<circle cx="214.32" cy="448.50" r="1.9" fill="#2e3192"/>
<text x="146.70" y="436.00" font-size="7.9" text-anchor="start" fill="#222" stroke="#222" stroke-width="0.1" >P0</text>
<text x="146.70" y="444.98" font-size="6.6" text-anchor="start" fill="#b9282f" stroke="#b9282f" stroke-width="0.1" ><tspan font-style="italic">P</tspan> &lt; 0.0001</text>
<line x1="247.50" y1="448.50" x2="321.32" y2="448.50" stroke="#4a4a4a" stroke-width="1.2"/>
<line x1="249.50" y1="450.50" x2="249.50" y2="386.60" stroke="#4a4a4a" stroke-width="1.1"/>
<line x1="247.70" y1="448.50" x2="249.50" y2="448.50" stroke="#222222" stroke-width="0.9"/>
<text x="243.90" y="450.90" font-size="6.7" text-anchor="end" fill="#1a1a1a" stroke="#1a1a1a" stroke-width="0.1" >0</text>
<line x1="247.70" y1="436.12" x2="249.50" y2="436.12" stroke="#222222" stroke-width="0.9"/>
<text x="243.90" y="438.52" font-size="6.7" text-anchor="end" fill="#1a1a1a" stroke="#1a1a1a" stroke-width="0.1" >20</text>
<line x1="247.70" y1="423.74" x2="249.50" y2="423.74" stroke="#222222" stroke-width="0.9"/>
<text x="243.90" y="426.14" font-size="6.7" text-anchor="end" fill="#1a1a1a" stroke="#1a1a1a" stroke-width="0.1" >40</text>
<line x1="247.70" y1="411.36" x2="249.50" y2="411.36" stroke="#222222" stroke-width="0.9"/>
<text x="243.90" y="413.76" font-size="6.7" text-anchor="end" fill="#1a1a1a" stroke="#1a1a1a" stroke-width="0.1" >60</text>
<line x1="247.70" y1="398.98" x2="249.50" y2="398.98" stroke="#222222" stroke-width="0.9"/>
<text x="243.90" y="401.38" font-size="6.7" text-anchor="end" fill="#1a1a1a" stroke="#1a1a1a" stroke-width="0.1" >80</text>
<line x1="247.70" y1="386.60" x2="249.50" y2="386.60" stroke="#222222" stroke-width="0.9"/>
<text x="243.90" y="389.00" font-size="6.7" text-anchor="end" fill="#1a1a1a" stroke="#1a1a1a" stroke-width="0.1" >100</text>
<line x1="249.50" y1="448.50" x2="249.50" y2="450.70" stroke="#222222" stroke-width="0.9"/>
<text x="249.50" y="458.90" font-size="6.7" text-anchor="middle" fill="#1a1a1a" stroke="#1a1a1a" stroke-width="0.1" >0</text>
<line x1="265.46" y1="448.50" x2="265.46" y2="450.70" stroke="#222222" stroke-width="0.9"/>
<text x="265.46" y="458.90" font-size="6.7" text-anchor="middle" fill="#1a1a1a" stroke="#1a1a1a" stroke-width="0.1" >2</text>
<line x1="281.42" y1="448.50" x2="281.42" y2="450.70" stroke="#222222" stroke-width="0.9"/>
<text x="281.42" y="458.90" font-size="6.7" text-anchor="middle" fill="#1a1a1a" stroke="#1a1a1a" stroke-width="0.1" >4</text>
<line x1="297.38" y1="448.50" x2="297.38" y2="450.70" stroke="#222222" stroke-width="0.9"/>
<text x="297.38" y="458.90" font-size="6.7" text-anchor="middle" fill="#1a1a1a" stroke="#1a1a1a" stroke-width="0.1" >6</text>
<line x1="313.34" y1="448.50" x2="313.34" y2="450.70" stroke="#222222" stroke-width="0.9"/>
<text x="313.34" y="458.90" font-size="6.7" text-anchor="middle" fill="#1a1a1a" stroke="#1a1a1a" stroke-width="0.1" >8</text>
<text x="281.42" y="466.80" font-size="6.7" text-anchor="middle" fill="#1a1a1a" stroke="#1a1a1a" stroke-width="0.1" >Time (h)</text>
<text x="0" y="0" font-size="6.7" text-anchor="middle" fill="#1a1a1a" stroke="#1a1a1a" stroke-width="0.1" transform="translate(233.30,416.25) rotate(-90)">Alive (%)</text>
<polyline points="249.50,386.60 273.44,386.60 281.42,386.60 289.40,386.60 297.38,391.55 305.36,426.22 313.34,445.40 321.32,448.50" fill="none" stroke="#111111" stroke-width="1.3" stroke-linejoin="round"/>
<circle cx="249.50" cy="386.60" r="1.9" fill="#111111"/>
<circle cx="273.44" cy="386.60" r="1.9" fill="#111111"/>
<circle cx="281.42" cy="386.60" r="1.9" fill="#111111"/>
<circle cx="289.40" cy="386.60" r="1.9" fill="#111111"/>
<circle cx="297.38" cy="391.55" r="1.9" fill="#111111"/>
<circle cx="305.36" cy="426.22" r="1.9" fill="#111111"/>
<circle cx="313.34" cy="445.40" r="1.9" fill="#111111"/>
<circle cx="321.32" cy="448.50" r="1.9" fill="#111111"/>
<polyline points="249.50,386.60 273.44,386.60 281.42,386.60 289.40,386.60 297.38,387.22 305.36,400.84 313.34,432.41 321.32,447.88" fill="none" stroke="#2e3192" stroke-width="1.15" stroke-linejoin="round" stroke-dasharray="2.8,1.4"/>
<circle cx="249.50" cy="386.60" r="1.9" fill="#2e3192"/>
<circle cx="273.44" cy="386.60" r="1.9" fill="#2e3192"/>
<circle cx="281.42" cy="386.60" r="1.9" fill="#2e3192"/>
<circle cx="289.40" cy="386.60" r="1.9" fill="#2e3192"/>
<circle cx="297.38" cy="387.22" r="1.9" fill="#2e3192"/>
<circle cx="305.36" cy="400.84" r="1.9" fill="#2e3192"/>
<circle cx="313.34" cy="432.41" r="1.9" fill="#2e3192"/>
<circle cx="321.32" cy="447.88" r="1.9" fill="#2e3192"/>
<line x1="249.50" y1="386.60" x2="273.44" y2="386.60" stroke="#bcbcd8" stroke-width="1.3"/>
<line x1="249.50" y1="386.60" x2="273.44" y2="386.60" stroke="#a2a4d6" stroke-width="1.3" stroke-dasharray="2.8,1.4"/>
<line x1="273.44" y1="386.60" x2="281.42" y2="386.60" stroke="#bcbcd8" stroke-width="1.3"/>
<line x1="273.44" y1="386.60" x2="281.42" y2="386.60" stroke="#a2a4d6" stroke-width="1.3" stroke-dasharray="2.8,1.4"/>
<line x1="281.42" y1="386.60" x2="289.40" y2="386.60" stroke="#bcbcd8" stroke-width="1.3"/>
<line x1="281.42" y1="386.60" x2="289.40" y2="386.60" stroke="#a2a4d6" stroke-width="1.3" stroke-dasharray="2.8,1.4"/>
<circle cx="249.50" cy="386.60" r="1.9" fill="#2e3192"/>
<circle cx="273.44" cy="386.60" r="1.9" fill="#2e3192"/>
<circle cx="281.42" cy="386.60" r="1.9" fill="#2e3192"/>
<circle cx="289.40" cy="386.60" r="1.9" fill="#2e3192"/>
<circle cx="297.38" cy="387.22" r="1.9" fill="#2e3192"/>
<circle cx="305.36" cy="400.84" r="1.9" fill="#2e3192"/>
<circle cx="313.34" cy="432.41" r="1.9" fill="#2e3192"/>
<circle cx="321.32" cy="447.88" r="1.9" fill="#2e3192"/>
<text x="253.70" y="436.00" font-size="7.9" text-anchor="start" fill="#222" stroke="#222" stroke-width="0.1" >P0</text>
<text x="253.70" y="444.98" font-size="6.6" text-anchor="start" fill="#b9282f" stroke="#b9282f" stroke-width="0.1" ><tspan font-style="italic">P</tspan> &lt; 0.0001</text>
<line x1="34.50" y1="538.50" x2="108.32" y2="538.50" stroke="#4a4a4a" stroke-width="1.2"/>
<line x1="36.50" y1="540.50" x2="36.50" y2="476.60" stroke="#4a4a4a" stroke-width="1.1"/>
<line x1="34.70" y1="538.50" x2="36.50" y2="538.50" stroke="#222222" stroke-width="0.9"/>
<text x="30.90" y="540.90" font-size="6.7" text-anchor="end" fill="#1a1a1a" stroke="#1a1a1a" stroke-width="0.1" >0</text>
<line x1="34.70" y1="526.12" x2="36.50" y2="526.12" stroke="#222222" stroke-width="0.9"/>
<text x="30.90" y="528.52" font-size="6.7" text-anchor="end" fill="#1a1a1a" stroke="#1a1a1a" stroke-width="0.1" >20</text>
<line x1="34.70" y1="513.74" x2="36.50" y2="513.74" stroke="#222222" stroke-width="0.9"/>
<text x="30.90" y="516.14" font-size="6.7" text-anchor="end" fill="#1a1a1a" stroke="#1a1a1a" stroke-width="0.1" >40</text>
<line x1="34.70" y1="501.36" x2="36.50" y2="501.36" stroke="#222222" stroke-width="0.9"/>
<text x="30.90" y="503.76" font-size="6.7" text-anchor="end" fill="#1a1a1a" stroke="#1a1a1a" stroke-width="0.1" >60</text>
<line x1="34.70" y1="488.98" x2="36.50" y2="488.98" stroke="#222222" stroke-width="0.9"/>
<text x="30.90" y="491.38" font-size="6.7" text-anchor="end" fill="#1a1a1a" stroke="#1a1a1a" stroke-width="0.1" >80</text>
<line x1="34.70" y1="476.60" x2="36.50" y2="476.60" stroke="#222222" stroke-width="0.9"/>
<text x="30.90" y="479.00" font-size="6.7" text-anchor="end" fill="#1a1a1a" stroke="#1a1a1a" stroke-width="0.1" >100</text>
<line x1="36.50" y1="538.50" x2="36.50" y2="540.70" stroke="#222222" stroke-width="0.9"/>
<text x="36.50" y="548.90" font-size="6.7" text-anchor="middle" fill="#1a1a1a" stroke="#1a1a1a" stroke-width="0.1" >0</text>
<line x1="52.46" y1="538.50" x2="52.46" y2="540.70" stroke="#222222" stroke-width="0.9"/>
<text x="52.46" y="548.90" font-size="6.7" text-anchor="middle" fill="#1a1a1a" stroke="#1a1a1a" stroke-width="0.1" >2</text>
<line x1="68.42" y1="538.50" x2="68.42" y2="540.70" stroke="#222222" stroke-width="0.9"/>
<text x="68.42" y="548.90" font-size="6.7" text-anchor="middle" fill="#1a1a1a" stroke="#1a1a1a" stroke-width="0.1" >4</text>
<line x1="84.38" y1="538.50" x2="84.38" y2="540.70" stroke="#222222" stroke-width="0.9"/>
<text x="84.38" y="548.90" font-size="6.7" text-anchor="middle" fill="#1a1a1a" stroke="#1a1a1a" stroke-width="0.1" >6</text>
<line x1="100.34" y1="538.50" x2="100.34" y2="540.70" stroke="#222222" stroke-width="0.9"/>
<text x="100.34" y="548.90" font-size="6.7" text-anchor="middle" fill="#1a1a1a" stroke="#1a1a1a" stroke-width="0.1" >8</text>
<text x="70.41" y="556.80" font-size="6.7" text-anchor="middle" fill="#1a1a1a" stroke="#1a1a1a" stroke-width="0.1" >Time (h)</text>
<text x="0" y="0" font-size="6.7" text-anchor="middle" fill="#1a1a1a" stroke="#1a1a1a" stroke-width="0.1" transform="translate(20.30,506.25) rotate(-90)">Alive (%)</text>
<polyline points="36.50,476.60 60.44,476.60 68.42,476.60 76.40,482.79 84.38,501.36 92.36,532.31 100.34,538.50" fill="none" stroke="#111111" stroke-width="1.3" stroke-linejoin="round"/>
<circle cx="36.50" cy="476.60" r="1.9" fill="#111111"/>
<circle cx="60.44" cy="476.60" r="1.9" fill="#111111"/>
<circle cx="68.42" cy="476.60" r="1.9" fill="#111111"/>
<circle cx="76.40" cy="482.79" r="1.9" fill="#111111"/>
<circle cx="84.38" cy="501.36" r="1.9" fill="#111111"/>
<circle cx="92.36" cy="532.31" r="1.9" fill="#111111"/>
<circle cx="100.34" cy="538.50" r="1.9" fill="#111111"/>
<polyline points="36.50,476.60 60.44,476.60 68.42,476.60 76.40,477.84 84.38,485.27 92.36,513.74 100.34,537.26 108.32,538.50" fill="none" stroke="#2e3192" stroke-width="1.15" stroke-linejoin="round" stroke-dasharray="2.8,1.4"/>
<circle cx="36.50" cy="476.60" r="1.9" fill="#2e3192"/>
<circle cx="60.44" cy="476.60" r="1.9" fill="#2e3192"/>
<circle cx="68.42" cy="476.60" r="1.9" fill="#2e3192"/>
<circle cx="76.40" cy="477.84" r="1.9" fill="#2e3192"/>
<circle cx="84.38" cy="485.27" r="1.9" fill="#2e3192"/>
<circle cx="92.36" cy="513.74" r="1.9" fill="#2e3192"/>
<circle cx="100.34" cy="537.26" r="1.9" fill="#2e3192"/>
<circle cx="108.32" cy="538.50" r="1.9" fill="#2e3192"/>
<line x1="36.50" y1="476.60" x2="60.44" y2="476.60" stroke="#bcbcd8" stroke-width="1.3"/>
<line x1="36.50" y1="476.60" x2="60.44" y2="476.60" stroke="#a2a4d6" stroke-width="1.3" stroke-dasharray="2.8,1.4"/>
<line x1="60.44" y1="476.60" x2="68.42" y2="476.60" stroke="#bcbcd8" stroke-width="1.3"/>
<line x1="60.44" y1="476.60" x2="68.42" y2="476.60" stroke="#a2a4d6" stroke-width="1.3" stroke-dasharray="2.8,1.4"/>
<circle cx="36.50" cy="476.60" r="1.9" fill="#2e3192"/>
<circle cx="60.44" cy="476.60" r="1.9" fill="#2e3192"/>
<circle cx="68.42" cy="476.60" r="1.9" fill="#2e3192"/>
<circle cx="76.40" cy="477.84" r="1.9" fill="#2e3192"/>
<circle cx="84.38" cy="485.27" r="1.9" fill="#2e3192"/>
<circle cx="92.36" cy="513.74" r="1.9" fill="#2e3192"/>
<circle cx="100.34" cy="537.26" r="1.9" fill="#2e3192"/>
<circle cx="108.32" cy="538.50" r="1.9" fill="#2e3192"/>
<text x="40.70" y="526.00" font-size="7.9" text-anchor="start" fill="#222" stroke="#222" stroke-width="0.1" >F1</text>
<text x="40.70" y="534.98" font-size="6.6" text-anchor="start" fill="#b9282f" stroke="#b9282f" stroke-width="0.1" ><tspan font-style="italic">P</tspan> &lt; 0.0001</text>
<line x1="140.50" y1="538.50" x2="214.32" y2="538.50" stroke="#4a4a4a" stroke-width="1.2"/>
<line x1="142.50" y1="540.50" x2="142.50" y2="476.60" stroke="#4a4a4a" stroke-width="1.1"/>
<line x1="140.70" y1="538.50" x2="142.50" y2="538.50" stroke="#222222" stroke-width="0.9"/>
<text x="136.90" y="540.90" font-size="6.7" text-anchor="end" fill="#1a1a1a" stroke="#1a1a1a" stroke-width="0.1" >0</text>
<line x1="140.70" y1="526.12" x2="142.50" y2="526.12" stroke="#222222" stroke-width="0.9"/>
<text x="136.90" y="528.52" font-size="6.7" text-anchor="end" fill="#1a1a1a" stroke="#1a1a1a" stroke-width="0.1" >20</text>
<line x1="140.70" y1="513.74" x2="142.50" y2="513.74" stroke="#222222" stroke-width="0.9"/>
<text x="136.90" y="516.14" font-size="6.7" text-anchor="end" fill="#1a1a1a" stroke="#1a1a1a" stroke-width="0.1" >40</text>
<line x1="140.70" y1="501.36" x2="142.50" y2="501.36" stroke="#222222" stroke-width="0.9"/>
<text x="136.90" y="503.76" font-size="6.7" text-anchor="end" fill="#1a1a1a" stroke="#1a1a1a" stroke-width="0.1" >60</text>
<line x1="140.70" y1="488.98" x2="142.50" y2="488.98" stroke="#222222" stroke-width="0.9"/>
<text x="136.90" y="491.38" font-size="6.7" text-anchor="end" fill="#1a1a1a" stroke="#1a1a1a" stroke-width="0.1" >80</text>
<line x1="140.70" y1="476.60" x2="142.50" y2="476.60" stroke="#222222" stroke-width="0.9"/>
<text x="136.90" y="479.00" font-size="6.7" text-anchor="end" fill="#1a1a1a" stroke="#1a1a1a" stroke-width="0.1" >100</text>
<line x1="142.50" y1="538.50" x2="142.50" y2="540.70" stroke="#222222" stroke-width="0.9"/>
<text x="142.50" y="548.90" font-size="6.7" text-anchor="middle" fill="#1a1a1a" stroke="#1a1a1a" stroke-width="0.1" >0</text>
<line x1="158.46" y1="538.50" x2="158.46" y2="540.70" stroke="#222222" stroke-width="0.9"/>
<text x="158.46" y="548.90" font-size="6.7" text-anchor="middle" fill="#1a1a1a" stroke="#1a1a1a" stroke-width="0.1" >2</text>
<line x1="174.42" y1="538.50" x2="174.42" y2="540.70" stroke="#222222" stroke-width="0.9"/>
<text x="174.42" y="548.90" font-size="6.7" text-anchor="middle" fill="#1a1a1a" stroke="#1a1a1a" stroke-width="0.1" >4</text>
<line x1="190.38" y1="538.50" x2="190.38" y2="540.70" stroke="#222222" stroke-width="0.9"/>
<text x="190.38" y="548.90" font-size="6.7" text-anchor="middle" fill="#1a1a1a" stroke="#1a1a1a" stroke-width="0.1" >6</text>
<line x1="206.34" y1="538.50" x2="206.34" y2="540.70" stroke="#222222" stroke-width="0.9"/>
<text x="206.34" y="548.90" font-size="6.7" text-anchor="middle" fill="#1a1a1a" stroke="#1a1a1a" stroke-width="0.1" >8</text>
<text x="174.42" y="556.80" font-size="6.7" text-anchor="middle" fill="#1a1a1a" stroke="#1a1a1a" stroke-width="0.1" >Time (h)</text>
<text x="0" y="0" font-size="6.7" text-anchor="middle" fill="#1a1a1a" stroke="#1a1a1a" stroke-width="0.1" transform="translate(126.30,506.25) rotate(-90)">Alive (%)</text>
<polyline points="142.50,476.60 166.44,476.60 174.42,476.60 182.40,480.93 190.38,505.69 198.36,529.22 206.34,538.50" fill="none" stroke="#111111" stroke-width="1.3" stroke-linejoin="round"/>
<circle cx="142.50" cy="476.60" r="1.9" fill="#111111"/>
<circle cx="166.44" cy="476.60" r="1.9" fill="#111111"/>
<circle cx="174.42" cy="476.60" r="1.9" fill="#111111"/>
<circle cx="182.40" cy="480.93" r="1.9" fill="#111111"/>
<circle cx="190.38" cy="505.69" r="1.9" fill="#111111"/>
<circle cx="198.36" cy="529.22" r="1.9" fill="#111111"/>
<circle cx="206.34" cy="538.50" r="1.9" fill="#111111"/>
<polyline points="142.50,476.60 166.44,476.60 174.42,476.60 182.40,476.60 190.38,487.12 198.36,515.60 206.34,537.26 214.32,538.50" fill="none" stroke="#2e3192" stroke-width="1.15" stroke-linejoin="round" stroke-dasharray="2.8,1.4"/>
<circle cx="142.50" cy="476.60" r="1.9" fill="#2e3192"/>
<circle cx="166.44" cy="476.60" r="1.9" fill="#2e3192"/>
<circle cx="174.42" cy="476.60" r="1.9" fill="#2e3192"/>
<circle cx="182.40" cy="476.60" r="1.9" fill="#2e3192"/>
<circle cx="190.38" cy="487.12" r="1.9" fill="#2e3192"/>
<circle cx="198.36" cy="515.60" r="1.9" fill="#2e3192"/>
<circle cx="206.34" cy="537.26" r="1.9" fill="#2e3192"/>
<circle cx="214.32" cy="538.50" r="1.9" fill="#2e3192"/>
<line x1="142.50" y1="476.60" x2="166.44" y2="476.60" stroke="#bcbcd8" stroke-width="1.3"/>
<line x1="142.50" y1="476.60" x2="166.44" y2="476.60" stroke="#a2a4d6" stroke-width="1.3" stroke-dasharray="2.8,1.4"/>
<line x1="166.44" y1="476.60" x2="174.42" y2="476.60" stroke="#bcbcd8" stroke-width="1.3"/>
<line x1="166.44" y1="476.60" x2="174.42" y2="476.60" stroke="#a2a4d6" stroke-width="1.3" stroke-dasharray="2.8,1.4"/>
<circle cx="142.50" cy="476.60" r="1.9" fill="#2e3192"/>
<circle cx="166.44" cy="476.60" r="1.9" fill="#2e3192"/>
<circle cx="174.42" cy="476.60" r="1.9" fill="#2e3192"/>
<circle cx="182.40" cy="476.60" r="1.9" fill="#2e3192"/>
<circle cx="190.38" cy="487.12" r="1.9" fill="#2e3192"/>
<circle cx="198.36" cy="515.60" r="1.9" fill="#2e3192"/>
<circle cx="206.34" cy="537.26" r="1.9" fill="#2e3192"/>
<circle cx="214.32" cy="538.50" r="1.9" fill="#2e3192"/>
<text x="146.70" y="526.00" font-size="7.9" text-anchor="start" fill="#222" stroke="#222" stroke-width="0.1" >F1</text>
<text x="146.70" y="534.98" font-size="6.6" text-anchor="start" fill="#b9282f" stroke="#b9282f" stroke-width="0.1" ><tspan font-style="italic">P</tspan> &lt; 0.0001</text>
<line x1="247.50" y1="538.50" x2="321.32" y2="538.50" stroke="#4a4a4a" stroke-width="1.2"/>
<line x1="249.50" y1="540.50" x2="249.50" y2="476.60" stroke="#4a4a4a" stroke-width="1.1"/>
<line x1="247.70" y1="538.50" x2="249.50" y2="538.50" stroke="#222222" stroke-width="0.9"/>
<text x="243.90" y="540.90" font-size="6.7" text-anchor="end" fill="#1a1a1a" stroke="#1a1a1a" stroke-width="0.1" >0</text>
<line x1="247.70" y1="526.12" x2="249.50" y2="526.12" stroke="#222222" stroke-width="0.9"/>
<text x="243.90" y="528.52" font-size="6.7" text-anchor="end" fill="#1a1a1a" stroke="#1a1a1a" stroke-width="0.1" >20</text>
<line x1="247.70" y1="513.74" x2="249.50" y2="513.74" stroke="#222222" stroke-width="0.9"/>
<text x="243.90" y="516.14" font-size="6.7" text-anchor="end" fill="#1a1a1a" stroke="#1a1a1a" stroke-width="0.1" >40</text>
<line x1="247.70" y1="501.36" x2="249.50" y2="501.36" stroke="#222222" stroke-width="0.9"/>
<text x="243.90" y="503.76" font-size="6.7" text-anchor="end" fill="#1a1a1a" stroke="#1a1a1a" stroke-width="0.1" >60</text>
<line x1="247.70" y1="488.98" x2="249.50" y2="488.98" stroke="#222222" stroke-width="0.9"/>
<text x="243.90" y="491.38" font-size="6.7" text-anchor="end" fill="#1a1a1a" stroke="#1a1a1a" stroke-width="0.1" >80</text>
<line x1="247.70" y1="476.60" x2="249.50" y2="476.60" stroke="#222222" stroke-width="0.9"/>
<text x="243.90" y="479.00" font-size="6.7" text-anchor="end" fill="#1a1a1a" stroke="#1a1a1a" stroke-width="0.1" >100</text>
<line x1="249.50" y1="538.50" x2="249.50" y2="540.70" stroke="#222222" stroke-width="0.9"/>
<text x="249.50" y="548.90" font-size="6.7" text-anchor="middle" fill="#1a1a1a" stroke="#1a1a1a" stroke-width="0.1" >0</text>
<line x1="265.46" y1="538.50" x2="265.46" y2="540.70" stroke="#222222" stroke-width="0.9"/>
<text x="265.46" y="548.90" font-size="6.7" text-anchor="middle" fill="#1a1a1a" stroke="#1a1a1a" stroke-width="0.1" >2</text>
<line x1="281.42" y1="538.50" x2="281.42" y2="540.70" stroke="#222222" stroke-width="0.9"/>
<text x="281.42" y="548.90" font-size="6.7" text-anchor="middle" fill="#1a1a1a" stroke="#1a1a1a" stroke-width="0.1" >4</text>
<line x1="297.38" y1="538.50" x2="297.38" y2="540.70" stroke="#222222" stroke-width="0.9"/>
<text x="297.38" y="548.90" font-size="6.7" text-anchor="middle" fill="#1a1a1a" stroke="#1a1a1a" stroke-width="0.1" >6</text>
<line x1="313.34" y1="538.50" x2="313.34" y2="540.70" stroke="#222222" stroke-width="0.9"/>
<text x="313.34" y="548.90" font-size="6.7" text-anchor="middle" fill="#1a1a1a" stroke="#1a1a1a" stroke-width="0.1" >8</text>
<text x="281.42" y="556.80" font-size="6.7" text-anchor="middle" fill="#1a1a1a" stroke="#1a1a1a" stroke-width="0.1" >Time (h)</text>
<text x="0" y="0" font-size="6.7" text-anchor="middle" fill="#1a1a1a" stroke="#1a1a1a" stroke-width="0.1" transform="translate(233.30,506.25) rotate(-90)">Alive (%)</text>
<polyline points="249.50,476.60 273.44,476.60 281.42,476.60 289.40,480.31 297.38,505.07 305.36,534.17 313.34,538.50" fill="none" stroke="#111111" stroke-width="1.3" stroke-linejoin="round"/>
<circle cx="249.50" cy="476.60" r="1.9" fill="#111111"/>
<circle cx="273.44" cy="476.60" r="1.9" fill="#111111"/>
<circle cx="281.42" cy="476.60" r="1.9" fill="#111111"/>
<circle cx="289.40" cy="480.31" r="1.9" fill="#111111"/>
<circle cx="297.38" cy="505.07" r="1.9" fill="#111111"/>
<circle cx="305.36" cy="534.17" r="1.9" fill="#111111"/>
<circle cx="313.34" cy="538.50" r="1.9" fill="#111111"/>
<polyline points="249.50,476.60 273.44,476.60 281.42,476.60 289.40,476.60 297.38,487.74 305.36,517.45 313.34,538.50 321.32,538.50" fill="none" stroke="#2e3192" stroke-width="1.15" stroke-linejoin="round" stroke-dasharray="2.8,1.4"/>
<circle cx="249.50" cy="476.60" r="1.9" fill="#2e3192"/>
<circle cx="273.44" cy="476.60" r="1.9" fill="#2e3192"/>
<circle cx="281.42" cy="476.60" r="1.9" fill="#2e3192"/>
<circle cx="289.40" cy="476.60" r="1.9" fill="#2e3192"/>
<circle cx="297.38" cy="487.74" r="1.9" fill="#2e3192"/>
<circle cx="305.36" cy="517.45" r="1.9" fill="#2e3192"/>
<circle cx="313.34" cy="538.50" r="1.9" fill="#2e3192"/>
<circle cx="321.32" cy="538.50" r="1.9" fill="#2e3192"/>
<line x1="249.50" y1="476.60" x2="273.44" y2="476.60" stroke="#bcbcd8" stroke-width="1.3"/>
<line x1="249.50" y1="476.60" x2="273.44" y2="476.60" stroke="#a2a4d6" stroke-width="1.3" stroke-dasharray="2.8,1.4"/>
<line x1="273.44" y1="476.60" x2="281.42" y2="476.60" stroke="#bcbcd8" stroke-width="1.3"/>
<line x1="273.44" y1="476.60" x2="281.42" y2="476.60" stroke="#a2a4d6" stroke-width="1.3" stroke-dasharray="2.8,1.4"/>
<circle cx="249.50" cy="476.60" r="1.9" fill="#2e3192"/>
<circle cx="273.44" cy="476.60" r="1.9" fill="#2e3192"/>
<circle cx="281.42" cy="476.60" r="1.9" fill="#2e3192"/>
<circle cx="289.40" cy="476.60" r="1.9" fill="#2e3192"/>
<circle cx="297.38" cy="487.74" r="1.9" fill="#2e3192"/>
<circle cx="305.36" cy="517.45" r="1.9" fill="#2e3192"/>
<circle cx="313.34" cy="538.50" r="1.9" fill="#2e3192"/>
<circle cx="321.32" cy="538.50" r="1.9" fill="#2e3192"/>
<text x="253.70" y="526.00" font-size="7.9" text-anchor="start" fill="#222" stroke="#222" stroke-width="0.1" >F1</text>
<text x="253.70" y="534.98" font-size="6.6" text-anchor="start" fill="#b9282f" stroke="#b9282f" stroke-width="0.1" ><tspan font-style="italic">P</tspan> &lt; 0.0001</text>
<line x1="33.70" y1="567.20" x2="43.50" y2="567.20" stroke="#111111" stroke-width="1.2"/>
<circle cx="38.60" cy="567.20" r="1.5" fill="#111111"/>
<text x="47.10" y="570.00" font-size="7.7" text-anchor="start" fill="#1a1a1a" stroke="#1a1a1a" stroke-width="0.1" >Control RNAi</text>
<line x1="33.70" y1="575.80" x2="43.50" y2="575.80" stroke="#2e3192" stroke-width="1.2" stroke-dasharray="2.6,1.0"/>
<circle cx="38.60" cy="575.80" r="1.5" fill="#2e3192"/>
<text x="47.10" y="578.60" font-size="7.7" text-anchor="start" fill="#1a1a1a" stroke="#1a1a1a" stroke-width="0.1" >Control RNAi osm</text>
<line x1="140.20" y1="567.20" x2="150.00" y2="567.20" stroke="#111111" stroke-width="1.2"/>
<circle cx="145.10" cy="567.20" r="1.5" fill="#111111"/>
<text x="153.60" y="570.00" font-size="7.7" text-anchor="start" fill="#1a1a1a" stroke="#1a1a1a" stroke-width="0.1" ><tspan font-style="italic">dcr-1</tspan> RNAi</text>
<line x1="140.20" y1="575.80" x2="150.00" y2="575.80" stroke="#2e3192" stroke-width="1.2" stroke-dasharray="2.6,1.0"/>
<circle cx="145.10" cy="575.80" r="1.5" fill="#2e3192"/>
<text x="153.60" y="578.60" font-size="7.7" text-anchor="start" fill="#1a1a1a" stroke="#1a1a1a" stroke-width="0.1" ><tspan font-style="italic">dcr-1</tspan> RNAi osm</text>
<line x1="246.80" y1="567.20" x2="256.60" y2="567.20" stroke="#111111" stroke-width="1.2"/>
<circle cx="251.70" cy="567.20" r="1.5" fill="#111111"/>
<text x="260.20" y="570.00" font-size="7.7" text-anchor="start" fill="#1a1a1a" stroke="#1a1a1a" stroke-width="0.1" ><tspan font-style="italic">drsh-1</tspan> RNAi</text>
<line x1="246.80" y1="575.80" x2="256.60" y2="575.80" stroke="#2e3192" stroke-width="1.2" stroke-dasharray="2.6,1.0"/>
<circle cx="251.70" cy="575.80" r="1.5" fill="#2e3192"/>
<text x="260.20" y="578.60" font-size="7.7" text-anchor="start" fill="#1a1a1a" stroke="#1a1a1a" stroke-width="0.1" ><tspan font-style="italic">drsh-1</tspan> RNAi osm</text>
</svg></body></html>
